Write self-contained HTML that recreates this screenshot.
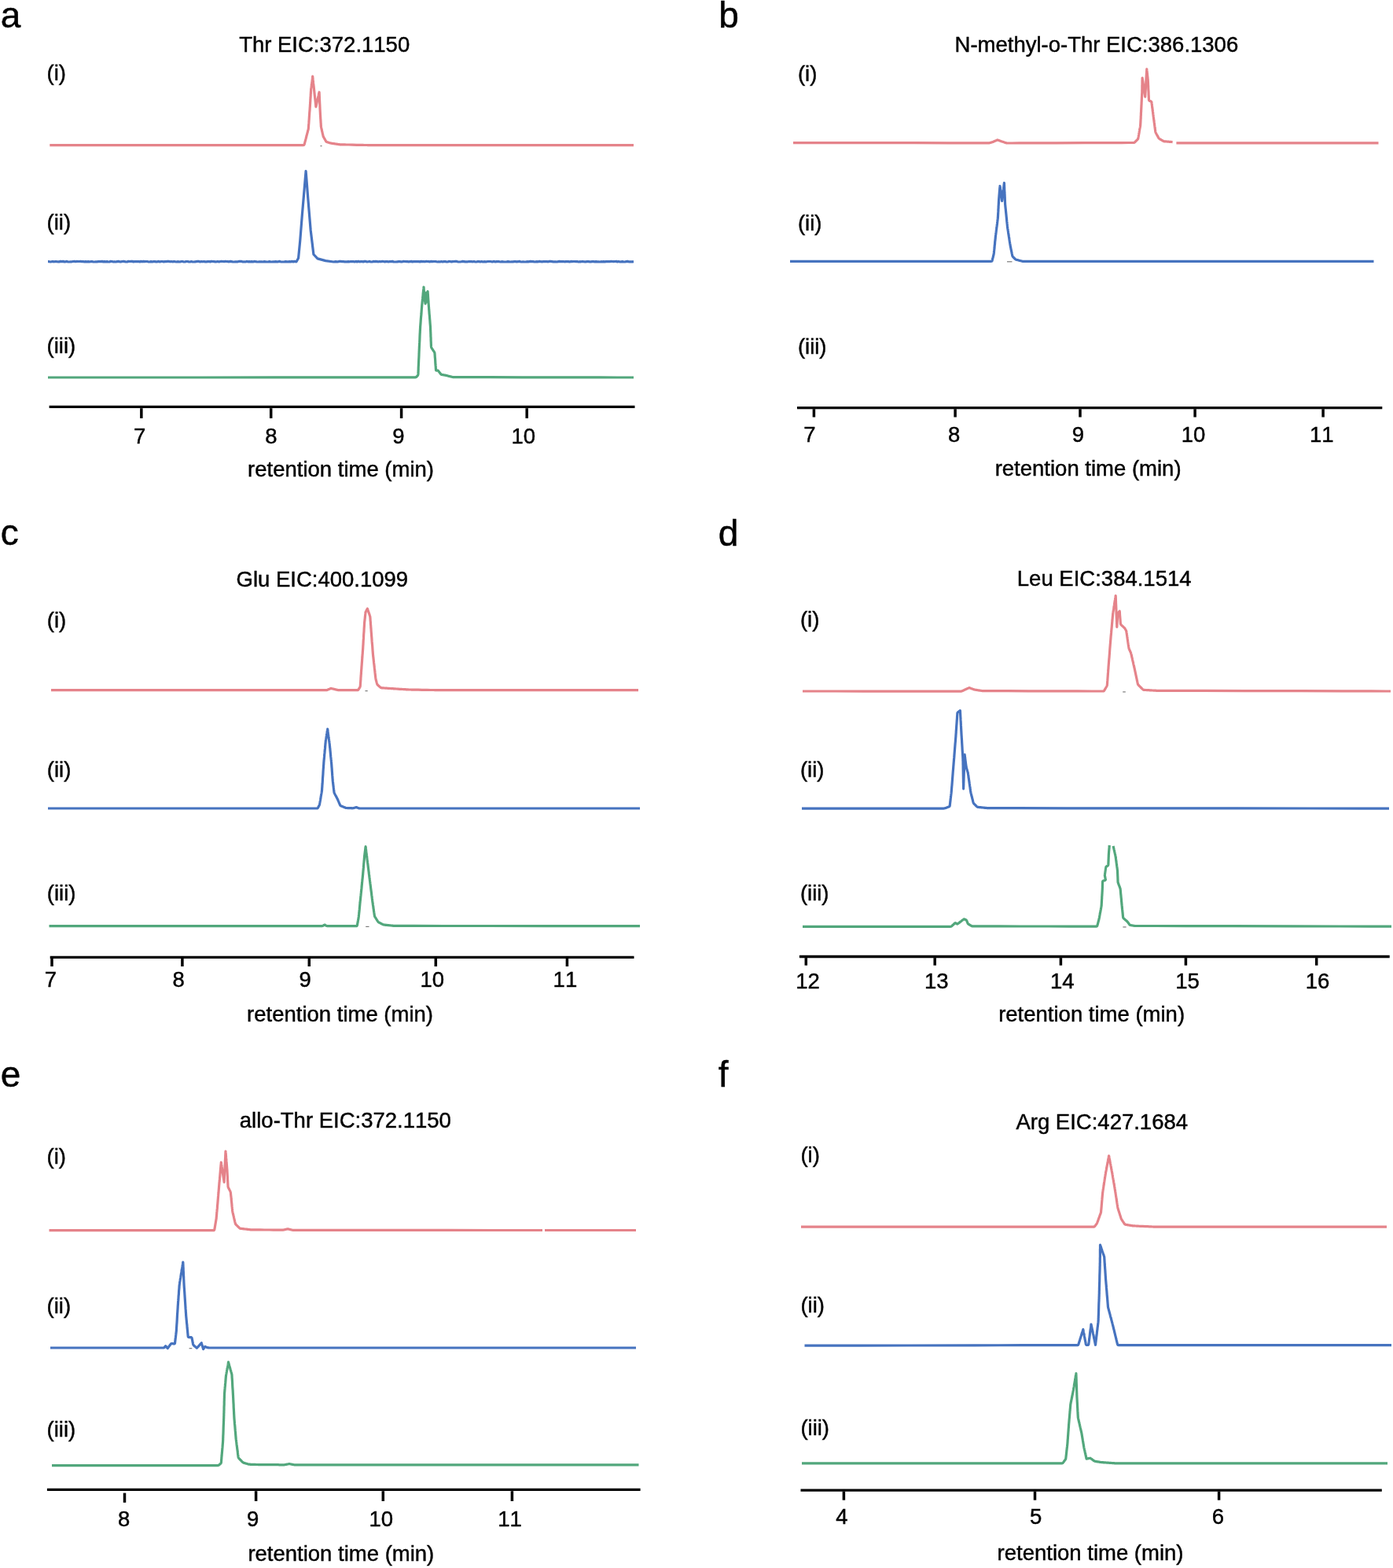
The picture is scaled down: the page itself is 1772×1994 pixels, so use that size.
<!DOCTYPE html>
<html><head><meta charset="utf-8"><title>EIC chromatograms</title>
<style>
html,body{margin:0;padding:0;background:#fff;}
body{width:1772px;height:1994px;overflow:hidden;}
svg{display:block;}
text{font-family:"Liberation Sans",Arial,Helvetica,sans-serif;fill:#000;stroke:#000;stroke-width:0.45px;font-kerning:none;font-feature-settings:"kern" 0;}
</style></head>
<body>
<svg width="1772" height="1994" viewBox="0 0 1772 1994">
<rect width="1772" height="1994" fill="#fff"/>
<text x="0.75" y="35.30" font-size="46">a</text>
<text x="304.13" y="65.90" font-size="27.5">Thr EIC:372.1150</text>
<text x="59.58" y="101.60" font-size="27.5">(i)</text>
<text x="59.58" y="292.20" font-size="27.5">(ii)</text>
<text x="59.58" y="448.80" font-size="27.5">(iii)</text>
<path d="M63.3,184.6 L64.7,184.6 L65.5,184.6 L66.1,184.6 L66.7,184.6 L67.4,184.6 L68.0,184.6 L68.6,184.6 L69.2,184.6 L69.9,184.6 L89.6,184.6 L128.5,184.6 L186.5,184.6 L263.7,184.6 L321.7,184.6 L360.6,184.6 L380.3,184.6 L381.0,184.6 L381.6,184.6 L382.2,184.6 L382.8,184.6 L383.5,184.6 L384.1,184.6 L384.7,184.6 L385.3,184.6 L386.0,184.6 L386.5,184.4 L386.9,184.1 L387.1,183.7 L387.3,183.1 L387.5,182.5 L387.6,181.9 L387.8,181.3 L387.9,180.7 L388.1,180.1 L388.2,179.5 L388.4,178.9 L388.6,178.3 L388.8,177.4 L389.1,176.4 L389.4,175.1 L389.8,173.5 L390.1,172.2 L390.4,171.2 L390.6,170.3 L390.8,169.7 L391.0,169.1 L391.1,168.5 L391.3,167.9 L391.4,167.3 L391.6,166.7 L391.7,166.1 L391.9,165.5 L392.1,164.9 L392.2,164.3 L392.3,163.7 L392.4,163.1 L392.4,162.4 L392.5,161.8 L392.5,161.2 L392.5,160.6 L392.6,159.9 L392.6,159.3 L392.7,158.7 L392.7,158.1 L392.8,157.5 L392.9,156.2 L393.0,154.2 L393.2,151.6 L393.4,148.2 L393.6,145.6 L393.7,143.6 L393.8,142.3 L393.9,141.7 L393.9,141.1 L394.0,140.5 L394.0,139.9 L394.1,139.2 L394.1,138.6 L394.1,138.0 L394.2,137.4 L394.2,136.7 L394.3,136.1 L394.3,135.5 L394.4,134.9 L394.4,134.2 L394.4,133.6 L394.5,133.0 L394.5,132.4 L394.6,131.7 L394.6,131.1 L394.6,130.5 L394.7,129.9 L394.7,129.3 L394.8,128.3 L394.8,127.0 L394.9,125.5 L395.1,123.5 L395.2,122.0 L395.2,120.7 L395.3,119.7 L395.3,119.1 L395.4,118.5 L395.4,117.9 L395.4,117.3 L395.5,116.6 L395.5,116.0 L395.6,115.4 L395.6,114.8 L395.6,114.1 L395.7,113.5 L395.7,112.9 L395.8,112.3 L395.9,111.8 L396.0,111.2 L396.0,110.6 L396.1,110.1 L396.2,109.5 L396.2,108.9 L396.3,108.3 L396.4,107.8 L396.4,107.2 L396.5,106.6 L396.6,106.1 L396.7,105.5 L396.7,104.9 L396.8,104.3 L396.9,103.8 L397.0,103.2 L397.0,102.6 L397.1,102.1 L397.2,101.5 L397.2,100.9 L397.3,100.3 L397.4,99.8 L397.5,99.2 L397.5,98.5 L397.7,97.2 L397.9,98.6 L397.9,99.4 L398.0,100.0 L398.1,100.6 L398.1,101.2 L398.2,101.9 L398.3,102.5 L398.3,103.1 L398.4,103.7 L398.6,105.7 L399.0,108.9 L399.5,113.5 L400.1,119.5 L400.6,124.1 L401.0,127.3 L401.2,129.3 L401.3,129.9 L401.3,130.5 L401.4,131.1 L401.5,131.8 L401.5,132.4 L401.6,133.0 L401.7,133.6 L401.7,134.4 L401.9,135.8 L402.2,134.5 L402.4,133.8 L402.5,133.2 L402.6,132.6 L402.8,132.0 L402.9,131.4 L403.0,130.9 L403.1,130.3 L403.3,129.7 L403.4,129.1 L403.5,128.5 L403.7,128.0 L403.8,127.4 L403.9,126.8 L404.1,126.2 L404.2,125.6 L404.3,125.0 L404.5,124.5 L404.6,123.9 L404.7,123.3 L404.9,122.7 L405.0,122.1 L405.1,121.6 L405.2,121.0 L405.4,120.4 L405.5,119.8 L405.6,119.2 L405.8,118.5 L406.1,117.2 L406.2,118.6 L406.2,119.4 L406.2,120.0 L406.3,120.6 L406.3,121.3 L406.3,121.9 L406.3,122.5 L406.4,123.1 L406.4,123.8 L406.4,124.8 L406.5,126.3 L406.6,128.1 L406.7,130.5 L406.8,132.3 L406.9,133.8 L406.9,134.8 L406.9,135.5 L407.0,136.1 L407.0,136.7 L407.0,137.3 L407.0,138.0 L407.1,138.6 L407.1,139.2 L407.1,139.8 L407.2,140.5 L407.2,141.1 L407.2,141.7 L407.3,142.3 L407.3,142.9 L407.3,143.6 L407.4,144.2 L407.4,144.8 L407.4,145.4 L407.5,146.0 L407.5,146.7 L407.6,147.3 L407.6,147.9 L407.6,148.5 L407.7,149.1 L407.7,149.8 L407.7,150.4 L407.8,151.0 L407.8,151.6 L407.9,152.2 L407.9,152.8 L407.9,153.5 L408.0,154.1 L408.0,154.7 L408.0,155.3 L408.1,155.9 L408.1,156.6 L408.2,157.2 L408.2,157.8 L408.2,158.4 L408.3,159.0 L408.3,159.7 L408.3,160.3 L408.4,160.9 L408.5,161.4 L408.6,162.0 L408.7,162.5 L408.8,163.0 L408.9,163.5 L409.0,164.0 L409.2,164.6 L409.3,165.1 L409.4,165.6 L409.5,166.1 L409.6,166.6 L409.7,167.1 L409.9,167.7 L410.0,168.2 L410.1,168.7 L410.2,169.2 L410.3,169.7 L410.4,170.2 L410.6,170.8 L410.7,171.3 L410.8,171.8 L410.9,172.3 L411.0,172.8 L411.2,173.3 L411.4,173.8 L411.6,174.2 L411.8,174.7 L412.1,175.1 L412.3,175.5 L412.5,175.9 L412.8,176.4 L413.0,176.8 L413.3,177.2 L413.5,177.6 L413.8,178.1 L414.0,178.5 L414.2,178.9 L414.5,179.3 L414.7,179.8 L415.0,180.1 L415.4,180.4 L415.8,180.6 L416.3,180.8 L416.8,180.9 L417.2,181.0 L417.7,181.2 L418.2,181.3 L418.7,181.5 L419.1,181.6 L419.6,181.7 L420.1,181.9 L420.6,182.0 L421.1,182.1 L421.6,182.2 L422.2,182.3 L422.8,182.4 L423.3,182.5 L423.9,182.6 L424.5,182.7 L425.0,182.7 L425.6,182.8 L426.2,182.9 L426.7,183.0 L427.3,183.1 L427.9,183.2 L428.4,183.2 L429.0,183.3 L429.6,183.4 L430.1,183.5 L430.7,183.6 L431.3,183.7 L431.8,183.7 L432.4,183.8 L433.0,183.8 L433.7,183.8 L434.3,183.8 L434.9,183.9 L435.5,183.9 L436.2,183.9 L436.8,183.9 L437.4,183.9 L438.0,183.9 L438.7,183.9 L440.6,184.0 L443.7,184.0 L448.2,184.1 L453.9,184.3 L458.4,184.4 L461.5,184.4 L463.4,184.5 L464.1,184.5 L464.7,184.5 L465.3,184.5 L465.9,184.5 L466.6,184.5 L467.2,184.5 L467.8,184.6 L468.4,184.6 L469.1,184.6 L469.7,184.6 L470.3,184.6 L470.9,184.6 L471.6,184.6 L472.2,184.6 L472.8,184.6 L473.4,184.6 L474.1,184.6 L474.7,184.6 L475.3,184.6 L475.9,184.6 L476.6,184.6 L497.1,184.6 L537.5,184.6 L597.9,184.6 L678.1,184.6 L738.5,184.6 L778.9,184.6 L799.4,184.6 L800.1,184.6 L800.7,184.6 L801.3,184.6 L801.9,184.6 L802.6,184.6 L803.2,184.6 L803.8,184.6 L804.6,184.6 L806.0,184.6" stroke="#E5838A" stroke-width="3.2" fill="none" stroke-linejoin="round" stroke-linecap="butt"/>
<path d="M61.0,332.7 L62.6,332.7 L64.2,333.0 L65.8,332.7 L67.4,332.7 L69.0,332.8 L70.6,332.5 L72.2,332.7 L73.8,332.8 L75.4,332.9 L77.0,332.4 L78.6,332.6 L80.2,332.4 L81.8,332.9 L83.4,332.8 L85.0,332.4 L86.6,333.0 L88.2,333.0 L89.8,332.8 L91.4,332.8 L93.0,332.5 L94.6,332.4 L96.2,332.7 L97.8,332.4 L99.4,332.5 L101.0,332.5 L102.6,332.4 L104.2,332.7 L105.8,332.7 L107.4,332.9 L109.0,332.7 L110.6,332.8 L112.2,332.7 L113.8,332.8 L115.4,332.7 L117.0,332.5 L118.6,333.0 L120.2,333.0 L121.8,332.9 L123.4,332.8 L125.0,332.6 L126.6,332.5 L128.2,332.6 L129.8,332.4 L131.4,332.9 L133.0,332.6 L134.6,332.9 L136.2,332.6 L137.8,333.0 L139.4,332.9 L141.0,332.4 L142.6,332.5 L144.2,333.0 L145.8,332.7 L147.4,333.0 L149.0,332.6 L150.6,332.4 L152.2,332.8 L153.8,332.9 L155.4,332.5 L157.0,332.4 L158.6,332.6 L160.2,333.0 L161.8,332.9 L163.4,332.4 L165.0,332.5 L166.6,332.4 L168.2,332.4 L169.8,332.9 L171.4,332.5 L173.0,332.7 L174.6,332.7 L176.2,332.5 L177.8,332.9 L179.4,332.4 L181.0,332.8 L182.6,332.4 L184.2,332.6 L185.8,332.5 L187.4,332.5 L189.0,333.0 L190.6,332.9 L192.2,332.6 L193.8,333.0 L195.4,332.5 L197.0,332.6 L198.6,332.9 L200.2,332.8 L201.8,332.4 L203.4,333.0 L205.0,332.5 L206.6,332.5 L208.2,332.9 L209.8,332.6 L211.4,332.6 L213.0,332.4 L214.6,332.4 L216.2,332.8 L217.8,332.5 L219.4,332.8 L221.0,332.6 L222.6,332.7 L224.2,333.0 L225.8,332.7 L227.4,332.8 L229.0,333.0 L230.6,332.5 L232.2,332.5 L233.8,333.0 L235.4,332.9 L237.0,332.5 L238.6,332.5 L240.2,332.9 L241.8,333.0 L243.4,332.5 L245.0,333.0 L246.6,333.0 L248.2,332.8 L249.8,332.6 L251.4,332.4 L253.0,332.4 L254.6,333.0 L256.2,332.5 L257.8,332.8 L259.4,332.5 L261.0,332.9 L262.6,332.8 L264.2,332.6 L265.8,332.5 L267.4,332.9 L269.0,332.4 L270.6,332.5 L272.2,332.7 L273.8,332.9 L275.4,332.8 L277.0,332.5 L278.6,333.0 L280.2,332.5 L281.8,332.4 L283.4,332.5 L285.0,332.7 L286.6,332.4 L288.2,332.5 L289.8,332.6 L291.4,332.8 L293.0,332.4 L294.6,332.6 L296.2,333.0 L297.8,333.0 L299.4,332.8 L301.0,332.8 L302.6,332.8 L304.2,332.4 L305.8,332.4 L307.4,332.4 L309.0,333.0 L310.6,332.8 L312.2,333.0 L313.8,332.4 L315.4,332.8 L317.0,332.7 L318.6,332.9 L320.2,332.6 L321.8,333.0 L323.4,332.4 L325.0,332.7 L326.6,332.9 L328.2,333.0 L329.8,332.9 L331.4,332.8 L333.0,332.9 L334.6,333.0 L336.2,332.6 L337.8,332.8 L339.4,333.0 L341.0,333.0 L342.6,332.6 L344.2,332.9 L345.8,333.0 L347.4,332.8 L349.0,332.8 L350.6,332.6 L352.2,332.8 L353.8,332.8 L355.4,332.4 L357.0,332.8 L358.6,333.0 L360.2,333.0 L361.8,332.9 L363.4,332.6 L365.0,332.9 L366.6,332.8 L368.2,332.7 L369.8,332.9 L371.4,332.4 L373.0,332.9 L374.6,332.4 L376.2,332.8 L376.9,332.7 L376.9,333.0 L379.6,328.2 L381.7,306.6 L384.4,272.7 L389.1,217.5 L391.8,252.4 L395.2,293.0 L398.9,323.5 L404.0,328.9 L414.2,331.6 L424.3,333.0 L427.0,332.7 L428.6,332.8 L430.2,332.8 L431.8,332.4 L433.4,332.4 L435.0,332.6 L436.6,332.5 L438.2,332.9 L439.8,332.8 L441.4,332.8 L443.0,332.7 L444.6,332.8 L446.2,332.5 L447.8,332.7 L449.4,332.5 L451.0,333.0 L452.6,332.4 L454.2,332.9 L455.8,332.4 L457.4,332.8 L459.0,332.6 L460.6,332.6 L462.2,332.9 L463.8,332.4 L465.4,332.4 L467.0,333.0 L468.6,332.7 L470.2,332.4 L471.8,333.0 L473.4,333.0 L475.0,332.4 L476.6,332.6 L478.2,332.4 L479.8,332.6 L481.4,332.8 L483.0,332.5 L484.6,332.8 L486.2,332.4 L487.8,332.5 L489.4,332.9 L491.0,332.6 L492.6,332.6 L494.2,332.8 L495.8,332.7 L497.4,332.6 L499.0,332.4 L500.6,332.9 L502.2,333.0 L503.8,333.0 L505.4,332.8 L507.0,332.6 L508.6,332.6 L510.2,332.8 L511.8,332.8 L513.4,332.4 L515.0,332.5 L516.6,332.6 L518.2,332.7 L519.8,332.9 L521.4,332.7 L523.0,332.4 L524.6,332.9 L526.2,332.7 L527.8,332.7 L529.4,332.5 L531.0,332.6 L532.6,332.6 L534.2,332.9 L535.8,332.4 L537.4,332.7 L539.0,332.5 L540.6,332.8 L542.2,332.4 L543.8,332.5 L545.4,332.6 L547.0,332.8 L548.6,332.4 L550.2,332.7 L551.8,332.5 L553.4,332.5 L555.0,332.7 L556.6,333.0 L558.2,332.7 L559.8,333.0 L561.4,332.5 L563.0,333.0 L564.6,332.6 L566.2,332.5 L567.8,332.9 L569.4,333.0 L571.0,332.4 L572.6,332.5 L574.2,332.9 L575.8,332.6 L577.4,332.5 L579.0,332.4 L580.6,332.4 L582.2,332.8 L583.8,333.0 L585.4,333.0 L587.0,332.7 L588.6,332.4 L590.2,332.6 L591.8,332.9 L593.4,332.9 L595.0,332.8 L596.6,332.5 L598.2,332.7 L599.8,332.7 L601.4,332.8 L603.0,332.5 L604.6,333.0 L606.2,333.0 L607.8,332.5 L609.4,332.6 L611.0,333.0 L612.6,332.5 L614.2,333.0 L615.8,332.7 L617.4,332.8 L619.0,332.8 L620.6,332.5 L622.2,332.5 L623.8,332.5 L625.4,332.8 L627.0,332.8 L628.6,332.4 L630.2,333.0 L631.8,332.6 L633.4,332.5 L635.0,332.7 L636.6,333.0 L638.2,332.7 L639.8,332.8 L641.4,333.0 L643.0,333.0 L644.6,332.9 L646.2,332.6 L647.8,332.8 L649.4,333.0 L651.0,332.9 L652.6,332.8 L654.2,332.6 L655.8,332.6 L657.4,332.9 L659.0,332.7 L660.6,332.4 L662.2,332.8 L663.8,333.0 L665.4,332.9 L667.0,333.0 L668.6,333.0 L670.2,332.7 L671.8,332.9 L673.4,332.6 L675.0,332.4 L676.6,332.6 L678.2,332.6 L679.8,333.0 L681.4,332.8 L683.0,332.7 L684.6,332.8 L686.2,332.4 L687.8,332.7 L689.4,332.8 L691.0,332.6 L692.6,332.5 L694.2,332.6 L695.8,332.6 L697.4,332.8 L699.0,332.4 L700.6,332.4 L702.2,332.6 L703.8,332.8 L705.4,332.9 L707.0,332.8 L708.6,333.0 L710.2,332.6 L711.8,332.4 L713.4,332.7 L715.0,332.7 L716.6,332.5 L718.2,332.8 L719.8,332.6 L721.4,332.5 L723.0,332.6 L724.6,333.0 L726.2,332.4 L727.8,332.6 L729.4,332.5 L731.0,332.5 L732.6,332.7 L734.2,332.5 L735.8,333.0 L737.4,332.7 L739.0,332.8 L740.6,332.5 L742.2,332.7 L743.8,332.8 L745.4,332.9 L747.0,332.5 L748.6,332.7 L750.2,332.9 L751.8,332.9 L753.4,332.5 L755.0,332.7 L756.6,332.9 L758.2,332.6 L759.8,332.8 L761.4,332.8 L763.0,333.0 L764.6,332.7 L766.2,332.8 L767.8,332.6 L769.4,332.9 L771.0,332.6 L772.6,332.7 L774.2,332.6 L775.8,332.6 L777.4,332.4 L779.0,332.5 L780.6,332.7 L782.2,332.5 L783.8,332.4 L785.4,332.9 L787.0,332.5 L788.6,333.0 L790.2,332.8 L791.8,332.6 L793.4,333.0 L795.0,333.0 L796.6,332.6 L798.2,332.4 L799.8,332.8 L801.4,332.9 L803.0,332.8 L804.6,332.9 L806.0,332.7" stroke="#4673BF" stroke-width="3.2" fill="none" stroke-linejoin="round" stroke-linecap="butt"/>
<path d="M61.0,480.0 L62.4,480.0 L63.2,480.0 L63.8,480.0 L64.4,480.0 L65.1,480.0 L65.7,480.0 L66.3,480.0 L66.9,480.0 L67.6,480.0 L96.4,480.0 L153.3,480.0 L238.4,480.0 L351.8,479.9 L436.9,479.9 L493.8,479.9 L522.6,479.9 L523.3,479.9 L523.9,479.9 L524.5,479.9 L525.1,479.9 L525.8,479.9 L526.4,479.9 L527.0,479.9 L527.6,479.9 L528.3,479.9 L528.8,479.8 L529.3,479.6 L529.7,479.3 L530.0,479.0 L530.4,478.6 L530.7,478.2 L531.1,477.8 L531.4,477.5 L531.7,477.0 L531.8,476.5 L531.9,476.0 L532.0,475.3 L532.0,474.7 L532.0,474.1 L532.0,473.5 L532.1,472.8 L532.1,472.2 L532.1,471.6 L532.1,471.0 L532.2,470.3 L532.2,468.7 L532.3,466.0 L532.5,462.3 L532.7,457.6 L532.9,453.9 L533.0,451.2 L533.0,449.6 L533.1,448.9 L533.1,448.3 L533.1,447.7 L533.1,447.1 L533.2,446.4 L533.2,445.8 L533.2,445.2 L533.2,444.6 L533.3,443.9 L533.3,443.3 L533.3,442.7 L533.3,442.1 L533.4,441.4 L533.4,440.8 L533.4,440.2 L533.5,439.6 L533.5,438.9 L533.5,438.3 L533.6,437.7 L533.6,437.1 L533.6,436.4 L533.7,435.2 L533.8,433.4 L533.9,431.0 L534.0,427.9 L534.1,425.5 L534.2,423.7 L534.3,422.5 L534.3,421.8 L534.3,421.2 L534.4,420.6 L534.4,420.0 L534.4,419.3 L534.5,418.7 L534.5,418.1 L534.5,417.5 L534.6,416.8 L534.6,416.2 L534.6,415.6 L534.7,415.0 L534.7,414.3 L534.8,413.7 L534.8,413.1 L534.9,412.5 L534.9,411.8 L535.0,411.2 L535.0,410.6 L535.1,410.0 L535.1,409.4 L535.2,408.1 L535.3,406.3 L535.5,403.9 L535.8,400.9 L536.0,398.5 L536.1,396.7 L536.2,395.4 L536.2,394.8 L536.3,394.2 L536.3,393.6 L536.4,393.0 L536.4,392.3 L536.5,391.7 L536.5,391.1 L536.6,390.5 L536.6,389.8 L536.7,389.2 L536.7,388.6 L536.8,388.0 L536.8,387.3 L536.9,386.7 L537.0,386.1 L537.0,385.5 L537.1,384.9 L537.1,384.2 L537.2,383.6 L537.3,383.0 L537.3,382.4 L537.4,381.3 L537.6,379.9 L537.7,378.1 L538.0,375.8 L538.1,374.0 L538.3,372.6 L538.4,371.5 L538.4,370.9 L538.5,370.3 L538.6,369.7 L538.6,369.0 L538.7,368.4 L538.7,367.8 L538.8,367.2 L538.9,366.4 L539.0,365.0 L539.1,366.2 L539.1,366.9 L539.2,367.4 L539.2,367.9 L539.2,368.5 L539.3,369.0 L539.3,369.6 L539.3,370.1 L539.4,370.6 L539.4,371.2 L539.4,371.7 L539.5,372.2 L539.5,372.8 L539.6,373.3 L539.6,373.8 L539.6,374.4 L539.7,374.9 L539.7,375.4 L539.7,376.0 L539.8,376.5 L539.8,377.1 L539.8,377.6 L539.9,378.1 L539.9,378.7 L539.9,379.2 L540.0,379.7 L540.1,380.2 L540.1,380.8 L540.2,381.3 L540.3,381.8 L540.4,382.3 L540.5,382.8 L540.6,383.3 L540.7,383.8 L540.8,384.3 L540.9,385.0 L541.1,386.1 L541.2,384.8 L541.3,384.0 L541.4,383.5 L541.4,382.9 L541.5,382.3 L541.5,381.7 L541.6,381.1 L541.7,380.5 L541.7,379.9 L541.8,379.3 L541.8,378.8 L541.9,378.2 L541.9,377.6 L542.0,377.0 L542.1,376.4 L542.1,375.8 L542.2,375.2 L542.2,374.6 L542.3,374.1 L542.4,373.3 L542.5,372.0 L542.6,373.3 L542.6,374.1 L542.7,374.7 L542.7,375.3 L542.8,375.9 L542.8,376.5 L542.8,377.1 L542.9,377.7 L542.9,378.3 L543.0,378.9 L543.0,379.5 L543.0,380.1 L543.1,380.7 L543.1,381.3 L543.2,381.9 L543.2,382.7 L543.3,384.0 L543.4,382.7 L543.4,382.0 L543.4,381.5 L543.5,380.9 L543.5,380.4 L543.5,379.8 L543.6,379.3 L543.6,378.7 L543.7,378.1 L543.7,377.6 L543.7,377.0 L543.8,376.5 L543.8,375.9 L543.8,375.3 L543.8,374.8 L543.9,374.2 L543.9,373.7 L544.0,373.1 L544.0,372.6 L544.0,371.9 L544.1,370.6 L544.2,372.0 L544.2,372.8 L544.3,373.4 L544.3,374.0 L544.4,374.6 L544.4,375.3 L544.5,375.9 L544.5,376.5 L544.5,377.1 L544.6,377.7 L544.6,378.4 L544.7,379.0 L544.7,379.6 L544.7,380.2 L544.8,380.8 L544.8,381.5 L544.9,382.1 L544.9,382.7 L545.0,383.3 L545.0,383.9 L545.0,384.6 L545.1,385.2 L545.1,385.8 L545.2,386.4 L545.2,387.1 L545.3,387.7 L545.3,388.3 L545.4,388.9 L545.4,389.5 L545.5,390.2 L545.5,390.8 L545.6,391.4 L545.6,392.0 L545.7,393.5 L545.9,395.7 L546.1,398.8 L546.5,402.6 L546.7,405.7 L546.9,407.9 L547.0,409.4 L547.0,410.0 L547.1,410.6 L547.1,411.2 L547.2,411.9 L547.2,412.5 L547.3,413.1 L547.3,413.7 L547.4,414.3 L547.4,415.0 L547.5,415.6 L547.5,416.2 L547.5,416.8 L547.6,417.5 L547.6,418.1 L547.6,418.7 L547.6,419.3 L547.7,420.0 L547.7,420.6 L547.7,421.2 L547.7,421.8 L547.8,422.5 L547.8,423.6 L547.9,425.3 L547.9,427.4 L548.1,430.2 L548.1,432.3 L548.2,434.0 L548.2,435.1 L548.3,435.8 L548.3,436.4 L548.3,437.0 L548.3,437.6 L548.4,438.3 L548.4,438.9 L548.4,439.5 L548.4,440.1 L548.5,440.8 L548.6,441.3 L548.7,441.9 L548.9,442.3 L549.2,442.7 L549.5,443.2 L549.7,443.6 L550.0,444.0 L550.3,444.4 L550.6,444.8 L550.8,445.3 L551.1,445.7 L551.4,446.1 L551.7,446.5 L551.9,446.9 L552.2,447.4 L552.5,447.8 L552.7,448.2 L552.9,448.8 L553.0,449.3 L553.0,450.0 L553.1,450.6 L553.1,451.2 L553.2,451.8 L553.2,452.5 L553.2,453.1 L553.3,453.7 L553.3,454.3 L553.4,454.9 L553.5,455.9 L553.6,457.3 L553.7,458.9 L553.8,461.0 L553.9,462.6 L554.0,464.0 L554.1,465.0 L554.2,465.6 L554.2,466.2 L554.3,466.8 L554.3,467.4 L554.3,468.1 L554.4,468.7 L554.4,469.3 L554.5,469.9 L554.5,470.6 L554.7,471.0 L555.0,471.2 L555.5,471.2 L556.1,471.1 L556.6,471.0 L557.1,471.2 L557.5,471.5 L557.8,471.9 L558.2,472.4 L558.5,472.8 L558.8,473.3 L559.2,473.7 L559.5,474.2 L559.8,474.6 L560.2,475.1 L560.5,475.5 L560.9,475.9 L561.3,476.2 L561.8,476.4 L562.4,476.5 L563.0,476.6 L563.5,476.7 L564.1,476.8 L564.7,476.9 L565.2,477.0 L565.8,477.1 L566.4,477.2 L567.0,477.3 L567.5,477.5 L568.0,477.6 L568.6,477.7 L569.1,477.8 L569.6,478.0 L570.1,478.1 L570.6,478.2 L571.1,478.4 L571.6,478.5 L572.2,478.6 L572.7,478.7 L573.2,478.9 L573.7,479.0 L574.2,479.1 L574.7,479.3 L575.2,479.4 L575.8,479.5 L576.3,479.6 L576.9,479.6 L577.6,479.6 L578.2,479.6 L578.8,479.6 L579.4,479.6 L580.1,479.6 L580.7,479.6 L581.3,479.6 L581.9,479.6 L582.6,479.6 L596.5,479.6 L623.7,479.7 L664.1,479.8 L717.9,479.8 L758.3,479.9 L785.5,480.0 L799.4,480.0 L800.1,480.0 L800.7,480.0 L801.3,480.0 L801.9,480.0 L802.6,480.0 L803.2,480.0 L803.8,480.0 L804.6,480.0 L806.0,480.0" stroke="#52A77C" stroke-width="3.2" fill="none" stroke-linejoin="round" stroke-linecap="butt"/>
<line x1="62.6" y1="517.4" x2="807.5" y2="517.4" stroke="#000" stroke-width="3.3"/>
<line x1="179.85" y1="519.2" x2="179.85" y2="531.9" stroke="#000" stroke-width="3.5"/>
<line x1="344.7" y1="519.2" x2="344.7" y2="531.9" stroke="#000" stroke-width="3.5"/>
<line x1="510.6" y1="519.2" x2="510.6" y2="531.9" stroke="#000" stroke-width="3.5"/>
<line x1="670.2" y1="519.2" x2="670.2" y2="531.9" stroke="#000" stroke-width="3.5"/>
<text x="170.03" y="564.30" font-size="27.5">7</text>
<text x="337.25" y="564.30" font-size="27.5">8</text>
<text x="499.25" y="564.30" font-size="27.5">9</text>
<text x="650.49" y="564.30" font-size="27.5">10</text>
<text x="315.08" y="605.80" font-size="27.5">retention time (min)</text>
<text x="914.31" y="35.10" font-size="46">b</text>
<text x="1214.53" y="66.00" font-size="27.5">N-methyl-o-Thr EIC:386.1306</text>
<text x="1014.88" y="103.10" font-size="27.5">(i)</text>
<text x="1014.88" y="293.00" font-size="27.5">(ii)</text>
<text x="1014.88" y="449.80" font-size="27.5">(iii)</text>
<path d="M1009.0,181.6 L1010.4,181.6 L1011.2,181.6 L1011.8,181.6 L1012.4,181.6 L1013.1,181.6 L1013.7,181.6 L1014.3,181.6 L1014.9,181.6 L1015.6,181.6 L1030.7,181.6 L1060.3,181.6 L1104.5,181.7 L1163.1,181.7 L1207.3,181.8 L1236.9,181.8 L1252.0,181.8 L1252.7,181.8 L1253.3,181.8 L1253.9,181.8 L1254.5,181.8 L1255.2,181.8 L1255.8,181.8 L1256.4,181.8 L1257.0,181.8 L1257.7,181.8 L1258.3,181.8 L1258.9,181.7 L1259.4,181.6 L1260.0,181.4 L1260.5,181.2 L1261.1,181.1 L1261.6,180.9 L1262.2,180.7 L1262.7,180.6 L1263.2,180.4 L1263.7,180.2 L1264.2,180.0 L1264.7,179.7 L1265.2,179.5 L1265.7,179.3 L1266.1,179.1 L1266.6,178.9 L1267.1,178.7 L1267.7,178.4 L1268.8,177.9 L1269.8,178.3 L1270.3,178.5 L1270.8,178.6 L1271.2,178.8 L1271.6,178.9 L1272.1,179.1 L1272.5,179.2 L1272.9,179.4 L1273.3,179.6 L1273.8,179.7 L1274.3,179.9 L1274.8,180.1 L1275.4,180.3 L1275.9,180.4 L1276.5,180.6 L1277.0,180.8 L1277.6,181.0 L1278.1,181.2 L1278.7,181.4 L1279.2,181.5 L1279.8,181.7 L1280.3,181.9 L1280.9,182.0 L1281.5,182.0 L1282.2,182.0 L1282.8,182.0 L1283.4,182.0 L1284.0,182.0 L1284.7,182.0 L1285.3,182.0 L1285.9,182.0 L1286.5,182.0 L1287.2,182.0 L1296.8,181.9 L1315.6,181.9 L1343.3,181.8 L1380.2,181.7 L1407.9,181.6 L1426.7,181.6 L1436.3,181.5 L1437.0,181.5 L1437.6,181.5 L1438.2,181.5 L1438.8,181.5 L1439.5,181.5 L1440.1,181.5 L1440.7,181.5 L1441.3,181.5 L1442.0,181.5 L1442.5,181.4 L1443.0,181.2 L1443.5,180.9 L1443.9,180.5 L1444.3,180.1 L1444.7,179.7 L1445.1,179.3 L1445.5,178.9 L1445.9,178.5 L1446.3,178.1 L1446.7,177.7 L1447.1,177.3 L1447.4,176.9 L1447.7,176.4 L1447.8,175.9 L1447.9,175.3 L1448.0,174.8 L1448.1,174.2 L1448.2,173.7 L1448.3,173.1 L1448.4,172.6 L1448.5,172.1 L1448.6,171.5 L1448.7,171.0 L1448.8,170.4 L1448.9,169.9 L1449.0,169.3 L1449.1,168.8 L1449.2,168.2 L1449.2,167.7 L1449.3,167.1 L1449.4,166.6 L1449.5,166.0 L1449.6,165.5 L1449.7,164.9 L1449.8,164.4 L1449.9,163.8 L1450.0,163.3 L1450.1,162.8 L1450.2,162.2 L1450.3,161.7 L1450.4,161.1 L1450.5,160.6 L1450.6,160.0 L1450.6,159.5 L1450.7,158.9 L1450.7,158.3 L1450.8,157.6 L1450.8,157.0 L1450.8,156.4 L1450.9,155.8 L1450.9,155.1 L1450.9,154.5 L1451.0,153.9 L1451.0,153.3 L1451.0,152.6 L1451.1,151.6 L1451.2,150.2 L1451.2,148.3 L1451.4,146.1 L1451.4,144.2 L1451.5,142.8 L1451.6,141.8 L1451.6,141.1 L1451.6,140.5 L1451.7,139.9 L1451.7,139.3 L1451.7,138.6 L1451.8,138.0 L1451.8,137.4 L1451.8,136.8 L1451.9,136.1 L1451.9,135.5 L1451.9,134.9 L1451.9,134.4 L1452.0,133.8 L1452.0,133.2 L1452.0,132.7 L1452.1,132.1 L1452.1,131.5 L1452.1,131.0 L1452.1,130.4 L1452.2,129.8 L1452.2,129.3 L1452.2,128.7 L1452.3,128.1 L1452.3,127.6 L1452.3,127.0 L1452.3,126.4 L1452.4,125.9 L1452.4,125.3 L1452.4,124.7 L1452.4,124.2 L1452.5,123.6 L1452.5,123.0 L1452.5,122.5 L1452.6,121.9 L1452.6,121.3 L1452.6,120.8 L1452.6,120.2 L1452.7,119.6 L1452.7,119.1 L1452.7,118.5 L1452.8,117.9 L1452.8,117.4 L1452.8,116.8 L1452.8,116.3 L1452.8,115.7 L1452.8,115.1 L1452.8,114.6 L1452.9,114.0 L1452.9,113.4 L1452.9,112.9 L1452.9,112.3 L1452.9,111.8 L1452.9,111.2 L1452.9,110.6 L1452.9,110.1 L1452.9,109.5 L1452.9,108.9 L1452.9,108.4 L1453.0,107.8 L1453.0,107.3 L1453.0,106.7 L1453.0,106.1 L1453.0,105.6 L1453.0,105.0 L1453.0,104.4 L1453.0,103.9 L1453.0,103.3 L1453.0,102.8 L1453.0,102.2 L1453.1,101.6 L1453.1,101.1 L1453.1,100.4 L1453.1,99.1 L1453.3,100.5 L1453.5,101.2 L1453.5,101.8 L1453.6,102.4 L1453.8,103.0 L1453.8,103.6 L1454.0,104.2 L1454.0,104.8 L1454.1,105.4 L1454.2,106.0 L1454.3,106.6 L1454.4,107.2 L1454.5,107.8 L1454.6,108.4 L1454.7,109.0 L1454.8,109.6 L1454.9,110.2 L1454.9,110.8 L1455.0,111.4 L1455.1,112.0 L1455.2,112.6 L1455.3,113.2 L1455.4,113.8 L1455.5,114.4 L1455.5,115.0 L1455.6,115.6 L1455.7,116.2 L1455.8,116.8 L1455.9,117.4 L1456.0,118.0 L1456.1,118.6 L1456.1,119.2 L1456.2,119.8 L1456.3,120.4 L1456.4,121.0 L1456.5,121.8 L1456.7,123.1 L1456.8,121.7 L1456.8,120.9 L1456.9,120.3 L1456.9,119.7 L1456.9,119.0 L1457.0,118.4 L1457.0,117.8 L1457.1,117.2 L1457.1,116.5 L1457.2,114.8 L1457.4,112.0 L1457.6,108.0 L1457.9,102.9 L1458.1,98.9 L1458.3,96.1 L1458.4,94.4 L1458.4,93.7 L1458.5,93.1 L1458.5,92.5 L1458.6,91.9 L1458.6,91.2 L1458.6,90.6 L1458.7,90.0 L1458.7,89.2 L1458.8,87.8 L1458.9,89.1 L1459.0,89.9 L1459.1,90.5 L1459.1,91.1 L1459.2,91.7 L1459.3,92.3 L1459.3,92.9 L1459.4,93.5 L1459.5,94.1 L1459.5,94.7 L1459.6,95.2 L1459.6,95.8 L1459.7,96.4 L1459.8,97.0 L1459.8,97.6 L1459.9,98.2 L1460.0,98.8 L1460.0,99.4 L1460.1,100.0 L1460.1,100.6 L1460.2,101.2 L1460.3,101.8 L1460.3,102.4 L1460.3,103.0 L1460.4,103.7 L1460.4,104.3 L1460.4,104.9 L1460.5,105.5 L1460.5,106.2 L1460.5,106.8 L1460.5,107.4 L1460.6,108.0 L1460.6,108.7 L1460.7,109.8 L1460.7,111.5 L1460.8,113.6 L1461.0,116.4 L1461.1,118.5 L1461.1,120.2 L1461.2,121.3 L1461.2,122.0 L1461.3,122.6 L1461.3,123.2 L1461.3,123.8 L1461.3,124.5 L1461.4,125.1 L1461.4,125.7 L1461.4,126.3 L1461.5,127.0 L1461.6,127.5 L1461.8,127.9 L1462.1,128.1 L1462.5,128.3 L1462.9,128.5 L1463.4,128.6 L1463.8,128.8 L1464.2,129.0 L1464.5,129.2 L1464.8,129.6 L1464.9,130.1 L1465.0,130.7 L1465.1,131.4 L1465.2,132.0 L1465.2,132.6 L1465.3,133.2 L1465.4,133.8 L1465.5,134.5 L1465.6,135.1 L1465.6,135.7 L1465.7,136.6 L1465.9,137.6 L1466.1,138.9 L1466.2,140.5 L1466.4,141.8 L1466.6,142.8 L1466.7,143.7 L1466.7,144.3 L1466.8,144.9 L1466.9,145.6 L1467.0,146.2 L1467.1,146.8 L1467.1,147.4 L1467.2,148.0 L1467.3,148.7 L1467.4,149.3 L1467.5,149.9 L1467.5,150.5 L1467.6,151.0 L1467.7,151.6 L1467.8,152.2 L1467.8,152.7 L1467.9,153.3 L1468.0,153.9 L1468.1,154.4 L1468.1,155.0 L1468.2,155.6 L1468.3,156.1 L1468.4,156.7 L1468.4,157.3 L1468.5,157.8 L1468.6,158.4 L1468.7,159.0 L1468.7,159.5 L1468.8,160.1 L1468.9,160.7 L1469.0,161.2 L1469.0,161.8 L1469.1,162.4 L1469.2,162.9 L1469.3,163.5 L1469.3,164.1 L1469.4,164.6 L1469.5,165.2 L1469.6,165.8 L1469.6,166.3 L1469.7,166.9 L1469.8,167.5 L1469.9,168.0 L1470.1,168.5 L1470.3,169.0 L1470.6,169.5 L1470.8,170.0 L1471.1,170.5 L1471.4,171.0 L1471.6,171.5 L1471.9,172.0 L1472.2,172.4 L1472.5,172.9 L1472.7,173.4 L1473.0,173.9 L1473.3,174.4 L1473.5,174.9 L1473.8,175.4 L1474.1,175.8 L1474.5,176.2 L1475.0,176.5 L1475.5,176.8 L1476.0,177.2 L1476.5,177.4 L1477.0,177.8 L1477.5,178.0 L1478.0,178.3 L1478.5,178.7 L1479.0,179.0 L1479.5,179.2 L1480.0,179.5 L1480.5,179.7 L1481.1,179.8 L1481.6,179.8 L1482.2,179.9 L1482.8,179.9 L1483.3,179.9 L1483.9,180.0 L1484.5,180.0 L1485.0,180.1 L1485.6,180.1 L1486.2,180.2 L1486.8,180.2 L1487.3,180.3 L1487.9,180.3 L1488.5,180.4 L1489.0,180.4 L1489.6,180.4 L1490.3,180.5 L1491.6,180.6" stroke="#E5838A" stroke-width="3.2" fill="none" stroke-linejoin="round" stroke-linecap="butt"/>
<path d="M1496.4,181.8 L1753.5,181.8" stroke="#E5838A" stroke-width="3.2" fill="none" stroke-linejoin="round" stroke-linecap="butt"/>
<path d="M1005.0,332.3 L1006.4,332.3 L1007.2,332.3 L1007.8,332.3 L1008.4,332.3 L1009.1,332.3 L1009.7,332.3 L1010.3,332.3 L1010.9,332.3 L1011.6,332.3 L1027.2,332.3 L1057.7,332.3 L1103.2,332.3 L1163.7,332.3 L1209.2,332.3 L1239.8,332.3 L1255.3,332.3 L1256.0,332.3 L1256.6,332.3 L1257.2,332.3 L1257.8,332.3 L1258.5,332.3 L1259.1,332.3 L1259.7,332.3 L1260.3,332.3 L1261.0,332.3 L1261.5,332.2 L1261.9,331.9 L1262.1,331.4 L1262.3,330.8 L1262.4,330.3 L1262.5,329.7 L1262.7,329.1 L1262.8,328.5 L1263.0,327.9 L1263.1,327.4 L1263.3,326.8 L1263.4,326.2 L1263.6,325.6 L1263.7,325.0 L1263.8,324.5 L1264.0,323.9 L1264.1,323.3 L1264.2,322.7 L1264.3,322.1 L1264.4,321.4 L1264.4,320.8 L1264.5,320.2 L1264.5,319.6 L1264.6,319.0 L1264.7,318.3 L1264.7,317.7 L1264.8,317.1 L1264.9,316.5 L1265.0,315.5 L1265.1,314.2 L1265.2,312.5 L1265.5,310.5 L1265.6,308.8 L1265.7,307.5 L1265.8,306.5 L1265.9,305.9 L1266.0,305.3 L1266.0,304.7 L1266.1,304.0 L1266.2,303.4 L1266.2,302.8 L1266.3,302.2 L1266.3,301.6 L1266.4,300.9 L1266.5,300.3 L1266.5,299.7 L1266.6,299.1 L1266.7,298.4 L1266.8,297.8 L1266.9,297.2 L1266.9,296.6 L1267.0,296.0 L1267.1,295.3 L1267.2,294.7 L1267.2,294.1 L1267.3,293.5 L1267.4,292.5 L1267.6,291.2 L1267.8,289.5 L1268.1,287.4 L1268.3,285.7 L1268.5,284.4 L1268.6,283.4 L1268.7,282.8 L1268.7,282.2 L1268.8,281.6 L1268.9,280.9 L1269.0,280.3 L1269.0,279.7 L1269.1,279.1 L1269.2,278.5 L1269.3,277.8 L1269.3,277.2 L1269.4,276.6 L1269.4,276.0 L1269.5,275.3 L1269.5,274.7 L1269.5,274.1 L1269.6,273.5 L1269.6,272.8 L1269.6,272.2 L1269.7,271.6 L1269.7,271.0 L1269.7,270.3 L1269.8,269.4 L1269.9,268.0 L1269.9,266.4 L1270.1,264.3 L1270.1,262.7 L1270.2,261.3 L1270.3,260.4 L1270.3,259.7 L1270.3,259.1 L1270.4,258.5 L1270.4,257.9 L1270.4,257.2 L1270.5,256.6 L1270.5,256.0 L1270.5,255.4 L1270.6,254.7 L1270.6,254.1 L1270.6,253.5 L1270.7,252.9 L1270.7,252.3 L1270.8,251.6 L1270.8,251.0 L1270.9,250.4 L1270.9,249.8 L1271.0,249.2 L1271.0,248.5 L1271.1,247.9 L1271.1,247.3 L1271.2,246.7 L1271.2,246.1 L1271.3,245.5 L1271.3,244.8 L1271.4,244.2 L1271.4,243.6 L1271.5,243.0 L1271.5,242.4 L1271.6,241.8 L1271.6,241.1 L1271.7,240.5 L1271.7,239.9 L1271.8,239.3 L1271.8,238.7 L1271.9,237.9 L1272.0,236.5 L1272.2,237.8 L1272.3,238.6 L1272.4,239.2 L1272.4,239.8 L1272.5,240.4 L1272.6,241.0 L1272.7,241.6 L1272.8,242.2 L1272.9,242.8 L1272.9,243.4 L1273.0,244.0 L1273.1,244.6 L1273.2,245.2 L1273.3,245.8 L1273.3,246.3 L1273.4,246.9 L1273.5,247.5 L1273.6,248.1 L1273.7,248.7 L1273.7,249.3 L1273.8,249.9 L1273.9,250.5 L1274.0,251.1 L1274.1,251.7 L1274.2,252.3 L1274.2,252.9 L1274.3,253.5 L1274.4,254.3 L1274.6,255.6 L1274.8,254.2 L1274.9,253.4 L1274.9,252.8 L1275.0,252.2 L1275.1,251.6 L1275.2,250.9 L1275.2,250.3 L1275.3,249.7 L1275.4,249.1 L1275.5,248.1 L1275.7,246.8 L1275.9,245.2 L1276.1,243.1 L1276.3,241.5 L1276.5,240.2 L1276.6,239.2 L1276.7,238.6 L1276.8,238.0 L1276.8,237.4 L1276.9,236.7 L1277.0,236.1 L1277.1,235.5 L1277.1,234.9 L1277.2,234.1 L1277.4,232.7 L1277.5,234.1 L1277.5,234.9 L1277.5,235.5 L1277.6,236.1 L1277.6,236.8 L1277.6,237.4 L1277.6,238.0 L1277.7,238.6 L1277.7,239.3 L1277.7,240.5 L1277.8,242.3 L1277.9,244.7 L1278.1,247.6 L1278.2,250.0 L1278.3,251.8 L1278.3,253.0 L1278.3,253.7 L1278.4,254.3 L1278.4,254.9 L1278.4,255.5 L1278.4,256.2 L1278.5,256.8 L1278.5,257.4 L1278.5,258.0 L1278.6,258.7 L1278.6,259.3 L1278.6,259.9 L1278.7,260.5 L1278.8,261.2 L1278.8,261.8 L1278.9,262.4 L1278.9,263.0 L1279.0,263.6 L1279.1,264.3 L1279.1,264.9 L1279.2,265.5 L1279.3,266.1 L1279.4,267.5 L1279.6,269.5 L1279.9,272.3 L1280.2,275.7 L1280.5,278.5 L1280.7,280.5 L1280.8,281.9 L1280.9,282.5 L1281.0,283.1 L1281.0,283.7 L1281.1,284.4 L1281.2,285.0 L1281.2,285.6 L1281.3,286.2 L1281.3,286.8 L1281.4,287.5 L1281.5,288.1 L1281.6,288.7 L1281.6,289.3 L1281.7,289.9 L1281.8,290.6 L1281.9,291.2 L1282.0,291.8 L1282.1,292.4 L1282.2,293.0 L1282.3,293.7 L1282.4,294.3 L1282.5,294.9 L1282.6,295.9 L1282.8,297.2 L1283.1,298.9 L1283.4,301.0 L1283.7,302.7 L1283.9,304.0 L1284.0,305.0 L1284.1,305.6 L1284.2,306.2 L1284.3,306.9 L1284.4,307.5 L1284.5,308.1 L1284.6,308.7 L1284.7,309.3 L1284.8,310.0 L1284.9,310.6 L1285.0,311.2 L1285.1,311.8 L1285.2,312.4 L1285.3,313.0 L1285.4,313.6 L1285.5,314.2 L1285.7,314.8 L1285.8,315.4 L1285.9,316.0 L1286.0,316.6 L1286.1,317.2 L1286.3,317.8 L1286.4,318.4 L1286.5,319.0 L1286.6,319.6 L1286.8,320.2 L1286.9,320.8 L1287.0,321.4 L1287.1,322.0 L1287.2,322.6 L1287.4,323.2 L1287.5,323.8 L1287.6,324.4 L1287.7,325.0 L1287.9,325.5 L1288.1,326.0 L1288.4,326.4 L1288.7,326.8 L1289.1,327.1 L1289.4,327.4 L1289.7,327.8 L1290.1,328.1 L1290.4,328.5 L1290.7,328.8 L1291.1,329.1 L1291.4,329.5 L1291.8,329.8 L1292.2,330.0 L1292.7,330.2 L1293.3,330.4 L1293.8,330.5 L1294.3,330.6 L1294.9,330.8 L1295.4,330.9 L1296.0,331.1 L1296.5,331.2 L1297.1,331.4 L1297.6,331.5 L1298.2,331.7 L1298.7,331.8 L1299.2,331.9 L1299.8,332.1 L1300.3,332.2 L1300.9,332.3 L1301.5,332.3 L1302.2,332.3 L1302.8,332.3 L1303.4,332.3 L1304.0,332.3 L1304.7,332.3 L1305.3,332.3 L1305.9,332.3 L1306.5,332.3 L1307.2,332.3 L1334.6,332.3 L1388.9,332.3 L1470.1,332.3 L1578.0,332.3 L1659.2,332.3 L1713.5,332.3 L1740.9,332.3 L1741.6,332.3 L1742.2,332.3 L1742.8,332.3 L1743.4,332.3 L1744.1,332.3 L1744.7,332.3 L1745.3,332.3 L1746.1,332.3 L1747.5,332.3" stroke="#4673BF" stroke-width="3.2" fill="none" stroke-linejoin="round" stroke-linecap="butt"/>
<line x1="1014" y1="518.6" x2="1758.3" y2="518.6" stroke="#000" stroke-width="3.3"/>
<line x1="1035.4" y1="520.2" x2="1035.4" y2="530.5" stroke="#000" stroke-width="3.5"/>
<line x1="1215.1" y1="520.2" x2="1215.1" y2="530.5" stroke="#000" stroke-width="3.5"/>
<line x1="1374" y1="520.2" x2="1374" y2="530.5" stroke="#000" stroke-width="3.5"/>
<line x1="1520.1" y1="520.2" x2="1520.1" y2="530.5" stroke="#000" stroke-width="3.5"/>
<line x1="1683.1" y1="520.2" x2="1683.1" y2="530.5" stroke="#000" stroke-width="3.5"/>
<text x="1022.23" y="562.10" font-size="27.5">7</text>
<text x="1206.05" y="562.10" font-size="27.5">8</text>
<text x="1363.65" y="562.10" font-size="27.5">9</text>
<text x="1502.69" y="562.10" font-size="27.5">10</text>
<text x="1666.03" y="562.10" font-size="27.5">11</text>
<text x="1265.68" y="604.90" font-size="27.5">retention time (min)</text>
<text x="0.75" y="693.30" font-size="46">c</text>
<text x="300.52" y="745.90" font-size="27.5">Glu EIC:400.1099</text>
<text x="59.78" y="797.90" font-size="27.5">(i)</text>
<text x="59.78" y="988.20" font-size="27.5">(ii)</text>
<text x="59.78" y="1144.80" font-size="27.5">(iii)</text>
<path d="M65.0,877.7 L66.4,877.7 L67.2,877.7 L67.8,877.7 L68.4,877.7 L69.1,877.7 L69.7,877.7 L70.3,877.7 L70.9,877.7 L71.6,877.7 L93.0,877.7 L135.3,877.7 L198.4,877.7 L282.3,877.7 L345.3,877.7 L387.6,877.7 L409.0,877.7 L409.7,877.7 L410.3,877.7 L410.9,877.7 L411.5,877.7 L412.2,877.7 L412.8,877.7 L413.4,877.7 L414.0,877.7 L414.7,877.7 L415.2,877.7 L415.8,877.6 L416.3,877.4 L416.7,877.2 L417.2,877.0 L417.6,876.8 L418.1,876.6 L418.5,876.5 L419.0,876.3 L419.4,876.1 L420.0,875.8 L421.0,875.4 L422.3,875.7 L423.1,875.9 L423.7,876.0 L424.3,876.2 L424.9,876.3 L425.5,876.5 L426.0,876.6 L426.6,876.8 L427.2,876.9 L427.8,877.1 L428.4,877.2 L429.0,877.3 L429.6,877.5 L430.2,877.6 L430.8,877.7 L431.4,877.7 L432.1,877.7 L432.7,877.7 L433.3,877.7 L433.9,877.7 L434.6,877.7 L435.2,877.7 L435.8,877.7 L436.4,877.7 L437.1,877.7 L438.2,877.7 L439.7,877.7 L441.8,877.7 L444.2,877.7 L446.3,877.7 L447.8,877.7 L448.9,877.7 L449.6,877.7 L450.2,877.7 L450.8,877.7 L451.4,877.7 L452.1,877.7 L452.7,877.7 L453.3,877.7 L453.9,877.7 L454.6,877.7 L455.1,877.6 L455.5,877.4 L455.8,877.2 L456.1,876.8 L456.3,876.4 L456.5,876.0 L456.7,875.7 L457.0,875.3 L457.2,875.0 L457.4,874.6 L457.6,874.2 L457.9,873.8 L458.0,873.4 L458.2,872.9 L458.3,872.4 L458.3,871.7 L458.4,871.1 L458.4,870.5 L458.4,869.9 L458.5,869.2 L458.5,868.6 L458.6,868.0 L458.6,867.4 L458.7,866.8 L458.7,866.0 L458.8,865.0 L458.9,863.8 L458.9,862.5 L459.0,861.3 L459.1,860.3 L459.1,859.5 L459.2,858.9 L459.2,858.3 L459.3,857.7 L459.3,857.1 L459.4,856.4 L459.4,855.8 L459.4,855.2 L459.5,854.6 L459.5,853.9 L459.6,853.3 L459.6,852.7 L459.7,852.1 L459.7,851.4 L459.8,850.8 L459.8,850.2 L459.9,849.6 L459.9,848.9 L459.9,848.3 L460.0,847.7 L460.0,847.1 L460.1,846.5 L460.2,845.2 L460.3,843.4 L460.5,841.0 L460.7,837.9 L460.9,835.5 L461.0,833.7 L461.1,832.4 L461.2,831.8 L461.2,831.2 L461.3,830.6 L461.3,830.0 L461.3,829.3 L461.4,828.7 L461.4,828.1 L461.5,827.5 L461.5,826.8 L461.6,826.2 L461.6,825.6 L461.7,825.0 L461.7,824.3 L461.7,823.7 L461.8,823.1 L461.8,822.5 L461.8,821.8 L461.9,821.2 L461.9,820.6 L462.0,820.0 L462.0,819.3 L462.1,817.7 L462.2,815.0 L462.5,811.4 L462.7,806.6 L463.0,803.0 L463.1,800.3 L463.2,798.7 L463.2,798.0 L463.3,797.4 L463.3,796.8 L463.4,796.2 L463.4,795.5 L463.4,794.9 L463.5,794.3 L463.5,793.7 L463.5,793.0 L463.6,792.4 L463.6,791.8 L463.7,791.3 L463.7,790.7 L463.8,790.1 L463.9,789.6 L463.9,789.0 L464.0,788.4 L464.0,787.9 L464.1,787.3 L464.2,786.7 L464.2,786.1 L464.3,785.6 L464.3,785.0 L464.4,784.4 L464.4,783.9 L464.5,783.3 L464.6,782.8 L464.6,782.2 L464.7,781.6 L464.7,781.0 L464.8,780.5 L464.9,779.9 L464.9,779.3 L465.0,778.8 L465.1,778.4 L465.3,777.9 L465.5,777.6 L465.7,777.2 L465.9,776.8 L466.1,776.4 L466.3,776.1 L466.5,775.7 L466.7,775.3 L466.9,774.8 L467.4,774.0 L467.8,775.1 L468.0,775.8 L468.2,776.2 L468.3,776.8 L468.5,777.2 L468.7,777.8 L468.8,778.2 L469.0,778.8 L469.2,779.2 L469.4,779.8 L469.5,780.2 L469.7,780.8 L469.9,781.2 L470.0,781.8 L470.2,782.2 L470.4,782.8 L470.5,783.2 L470.7,783.8 L470.8,784.3 L470.9,784.9 L470.9,785.6 L471.0,786.2 L471.0,786.8 L471.1,787.4 L471.1,788.1 L471.1,788.7 L471.2,789.3 L471.2,789.9 L471.3,790.5 L471.4,791.4 L471.4,792.6 L471.5,794.0 L471.7,795.6 L471.8,797.0 L471.8,798.2 L471.9,799.1 L472.0,799.7 L472.0,800.3 L472.1,800.9 L472.1,801.5 L472.1,802.2 L472.2,802.8 L472.2,803.4 L472.3,804.0 L472.3,804.7 L472.4,805.3 L472.4,805.9 L472.5,806.5 L472.5,807.2 L472.6,807.8 L472.6,808.4 L472.7,809.0 L472.7,809.7 L472.8,810.3 L472.8,810.9 L472.9,811.5 L472.9,812.1 L473.0,813.4 L473.1,815.2 L473.3,817.6 L473.6,820.7 L473.8,823.1 L473.9,824.9 L474.0,826.2 L474.0,826.8 L474.1,827.4 L474.1,828.0 L474.2,828.6 L474.2,829.3 L474.3,829.9 L474.3,830.5 L474.4,831.1 L474.4,831.8 L474.5,832.4 L474.5,833.0 L474.6,833.6 L474.7,834.3 L474.7,834.9 L474.8,835.5 L474.9,836.1 L475.0,836.7 L475.0,837.4 L475.1,838.0 L475.2,838.6 L475.2,839.2 L475.4,840.7 L475.6,842.9 L476.0,846.0 L476.4,849.9 L476.8,853.0 L477.0,855.2 L477.2,856.7 L477.2,857.3 L477.3,857.9 L477.4,858.5 L477.4,859.2 L477.5,859.8 L477.6,860.4 L477.7,861.0 L477.7,861.6 L477.8,862.3 L477.9,862.8 L478.0,863.4 L478.1,863.9 L478.2,864.4 L478.3,864.8 L478.5,865.3 L478.6,865.7 L478.7,866.2 L478.8,866.7 L479.0,867.1 L479.1,867.6 L479.2,868.1 L479.3,868.5 L479.5,869.0 L479.6,869.4 L479.7,869.9 L479.9,870.3 L480.2,870.7 L480.5,871.1 L480.9,871.5 L481.3,871.8 L481.7,872.1 L482.1,872.5 L482.4,872.8 L482.8,873.2 L483.2,873.5 L483.6,873.8 L484.0,874.2 L484.4,874.5 L484.9,874.6 L485.4,874.8 L485.9,874.8 L486.4,874.8 L486.9,874.9 L487.4,874.9 L487.9,874.9 L488.4,875.0 L488.9,875.0 L489.4,875.0 L490.0,875.1 L490.5,875.1 L491.0,875.1 L491.5,875.2 L492.0,875.2 L492.5,875.2 L493.0,875.3 L493.5,875.3 L494.0,875.3 L494.6,875.4 L495.1,875.4 L495.7,875.5 L496.4,875.5 L497.0,875.5 L497.6,875.6 L498.2,875.6 L498.9,875.7 L499.5,875.7 L500.1,875.7 L500.7,875.8 L501.3,875.8 L502.5,875.9 L504.0,876.0 L506.1,876.1 L508.7,876.3 L510.8,876.4 L512.3,876.5 L513.5,876.6 L514.1,876.6 L514.7,876.7 L515.3,876.7 L515.9,876.7 L516.6,876.8 L517.2,876.8 L517.8,876.9 L518.4,876.9 L519.1,876.9 L519.7,877.0 L520.3,877.0 L520.9,877.0 L521.6,877.0 L522.2,877.0 L522.8,877.0 L523.4,877.1 L524.1,877.1 L524.7,877.1 L525.3,877.1 L525.9,877.1 L526.6,877.1 L528.6,877.2 L532.0,877.2 L536.9,877.3 L543.1,877.4 L548.0,877.5 L551.4,877.5 L553.4,877.6 L554.1,877.6 L554.7,877.6 L555.3,877.6 L555.9,877.6 L556.6,877.6 L557.2,877.7 L557.8,877.7 L558.4,877.7 L559.1,877.7 L559.7,877.7 L560.3,877.7 L560.9,877.7 L561.6,877.7 L562.2,877.7 L562.8,877.7 L563.4,877.7 L564.1,877.7 L564.7,877.7 L565.3,877.7 L565.9,877.7 L566.6,877.7 L581.8,877.7 L611.8,877.7 L656.4,877.7 L715.6,877.7 L760.2,877.7 L790.2,877.7 L805.4,877.7 L806.1,877.7 L806.7,877.7 L807.3,877.7 L807.9,877.7 L808.6,877.7 L809.2,877.7 L809.8,877.7 L810.6,877.7 L812.0,877.7" stroke="#E5838A" stroke-width="3.2" fill="none" stroke-linejoin="round" stroke-linecap="butt"/>
<path d="M61.0,1028.0 L62.4,1028.0 L63.2,1028.0 L63.8,1028.0 L64.4,1028.0 L65.1,1028.0 L65.7,1028.0 L66.3,1028.0 L66.9,1028.0 L67.6,1028.0 L88.5,1028.0 L129.9,1028.0 L191.5,1028.0 L273.6,1028.0 L335.2,1028.0 L376.6,1028.0 L397.5,1028.0 L398.2,1028.0 L398.8,1028.0 L399.4,1028.0 L400.0,1028.0 L400.7,1028.0 L401.3,1028.0 L401.9,1028.0 L402.5,1028.0 L403.2,1028.0 L403.7,1027.9 L404.1,1027.7 L404.4,1027.4 L404.6,1027.0 L404.8,1026.6 L405.0,1026.2 L405.2,1025.8 L405.4,1025.5 L405.6,1025.1 L405.8,1024.7 L406.0,1024.3 L406.2,1023.9 L406.4,1023.5 L406.5,1023.0 L406.6,1022.5 L406.7,1021.9 L406.8,1021.3 L406.9,1020.8 L407.0,1020.2 L407.1,1019.6 L407.2,1019.1 L407.3,1018.5 L407.4,1018.0 L407.5,1017.4 L407.6,1016.8 L407.7,1016.3 L407.8,1015.7 L407.9,1015.1 L408.0,1014.6 L408.0,1014.0 L408.1,1013.5 L408.2,1012.9 L408.3,1012.3 L408.4,1011.8 L408.5,1011.2 L408.6,1010.6 L408.7,1010.1 L408.8,1009.5 L408.9,1009.0 L409.0,1008.4 L409.1,1007.8 L409.2,1007.3 L409.3,1006.7 L409.4,1006.1 L409.4,1005.6 L409.5,1005.0 L409.6,1004.4 L409.6,1003.7 L409.6,1003.1 L409.7,1002.5 L409.7,1001.9 L409.8,1001.2 L409.8,1000.6 L409.9,1000.0 L409.9,999.4 L409.9,998.8 L410.1,997.0 L410.3,994.0 L410.5,989.9 L410.9,984.6 L411.1,980.5 L411.3,977.5 L411.5,975.7 L411.5,975.1 L411.5,974.5 L411.6,973.9 L411.6,973.3 L411.7,972.6 L411.7,972.0 L411.8,971.4 L411.8,970.8 L411.8,970.1 L411.9,969.5 L411.9,968.9 L412.0,968.3 L412.0,967.6 L412.1,967.0 L412.1,966.4 L412.2,965.8 L412.3,965.2 L412.3,964.5 L412.4,963.9 L412.4,963.3 L412.5,962.7 L412.6,961.4 L412.7,959.6 L413.0,957.2 L413.2,954.1 L413.5,951.7 L413.6,949.9 L413.7,948.6 L413.8,948.0 L413.8,947.4 L413.9,946.8 L413.9,946.1 L414.0,945.5 L414.1,944.9 L414.1,944.3 L414.2,943.7 L414.2,943.0 L414.3,942.4 L414.4,941.9 L414.4,941.3 L414.5,940.8 L414.6,940.2 L414.7,939.7 L414.8,939.2 L414.9,938.6 L414.9,938.1 L415.0,937.6 L415.1,937.0 L415.2,936.5 L415.3,936.0 L415.4,935.4 L415.5,934.9 L415.5,934.4 L415.6,933.9 L415.7,933.3 L415.8,932.8 L415.9,932.3 L416.0,931.7 L416.1,931.2 L416.1,930.7 L416.2,930.1 L416.3,929.6 L416.4,929.1 L416.5,928.4 L416.7,927.2 L416.9,928.5 L417.0,929.2 L417.0,929.7 L417.1,930.3 L417.2,930.8 L417.3,931.4 L417.3,932.0 L417.4,932.5 L417.5,933.1 L417.6,933.6 L417.6,934.2 L417.7,934.8 L417.8,935.3 L417.9,935.9 L417.9,936.4 L418.0,937.0 L418.1,937.5 L418.2,938.1 L418.2,938.7 L418.3,939.2 L418.4,939.8 L418.5,940.3 L418.5,940.9 L418.6,941.5 L418.7,942.0 L418.8,942.6 L418.8,943.1 L418.9,943.7 L419.0,944.3 L419.1,944.8 L419.1,945.4 L419.2,946.0 L419.3,946.7 L419.3,947.3 L419.4,947.9 L419.4,948.5 L419.5,949.1 L419.6,949.8 L419.6,950.4 L419.7,951.0 L419.8,951.6 L419.9,952.7 L420.0,954.1 L420.2,956.0 L420.4,958.3 L420.6,960.2 L420.7,961.6 L420.8,962.7 L420.9,963.3 L421.0,963.9 L421.0,964.5 L421.1,965.2 L421.2,965.8 L421.2,966.4 L421.3,967.0 L421.3,967.6 L421.4,968.3 L421.5,968.9 L421.5,969.5 L421.6,970.1 L421.6,970.8 L421.7,971.4 L421.7,972.0 L421.8,972.6 L421.8,973.3 L421.9,973.9 L421.9,974.5 L421.9,975.1 L422.0,975.7 L422.1,976.8 L422.2,978.2 L422.3,980.1 L422.5,982.3 L422.6,984.2 L422.7,985.6 L422.8,986.7 L422.9,987.3 L422.9,987.9 L422.9,988.5 L423.0,989.1 L423.0,989.8 L423.1,990.4 L423.1,991.0 L423.2,991.6 L423.2,992.3 L423.3,992.9 L423.3,993.4 L423.4,994.0 L423.5,994.5 L423.5,995.1 L423.6,995.6 L423.7,996.2 L423.7,996.7 L423.8,997.2 L423.8,997.8 L423.9,998.3 L424.0,998.9 L424.0,999.4 L424.1,999.9 L424.2,1000.5 L424.2,1001.0 L424.3,1001.6 L424.4,1002.1 L424.4,1002.6 L424.5,1003.2 L424.6,1003.7 L424.6,1004.3 L424.7,1004.8 L424.7,1005.3 L424.8,1005.9 L424.9,1006.4 L424.9,1007.0 L425.0,1007.5 L425.1,1008.0 L425.3,1008.5 L425.5,1009.0 L425.8,1009.5 L426.0,1010.0 L426.3,1010.5 L426.5,1011.0 L426.8,1011.5 L427.1,1012.0 L427.3,1012.4 L427.6,1012.9 L427.9,1013.4 L428.1,1013.9 L428.4,1014.4 L428.6,1014.9 L428.9,1015.4 L429.2,1015.9 L429.4,1016.4 L429.6,1016.9 L429.9,1017.4 L430.1,1017.9 L430.3,1018.5 L430.5,1019.0 L430.8,1019.5 L431.0,1020.0 L431.2,1020.6 L431.4,1021.1 L431.7,1021.6 L431.9,1022.1 L432.1,1022.7 L432.3,1023.2 L432.6,1023.7 L432.8,1024.2 L433.2,1024.5 L433.6,1024.8 L434.0,1025.0 L434.5,1025.2 L435.0,1025.3 L435.4,1025.5 L435.9,1025.7 L436.3,1025.9 L436.8,1026.1 L437.2,1026.3 L437.7,1026.5 L438.1,1026.7 L438.6,1026.8 L439.1,1027.0 L439.5,1027.2 L440.0,1027.4 L440.5,1027.5 L441.0,1027.5 L441.6,1027.5 L442.2,1027.6 L442.7,1027.6 L443.3,1027.6 L443.9,1027.6 L444.4,1027.6 L445.0,1027.7 L445.5,1027.7 L446.1,1027.7 L446.7,1027.7 L447.2,1027.7 L447.8,1027.8 L448.4,1027.8 L448.9,1027.7 L449.5,1027.7 L450.0,1027.6 L450.5,1027.4 L451.0,1027.3 L451.6,1027.1 L452.2,1026.9 L453.4,1026.6 L454.4,1027.0 L455.0,1027.2 L455.4,1027.4 L455.9,1027.6 L456.3,1027.7 L456.8,1027.9 L457.4,1028.0 L457.9,1028.0 L458.6,1028.0 L459.2,1028.0 L459.8,1028.0 L460.4,1028.0 L461.1,1028.0 L461.7,1028.0 L462.3,1028.0 L462.9,1028.0 L463.6,1028.0 L485.4,1028.0 L528.5,1028.0 L592.8,1028.0 L678.2,1028.0 L742.5,1028.0 L785.6,1028.0 L807.4,1028.0 L808.1,1028.0 L808.7,1028.0 L809.3,1028.0 L809.9,1028.0 L810.6,1028.0 L811.2,1028.0 L811.8,1028.0 L812.6,1028.0 L814.0,1028.0" stroke="#4673BF" stroke-width="3.2" fill="none" stroke-linejoin="round" stroke-linecap="butt"/>
<path d="M62.5,1177.7 L63.9,1177.7 L64.7,1177.7 L65.3,1177.7 L65.9,1177.7 L66.6,1177.7 L67.2,1177.7 L67.8,1177.7 L68.4,1177.7 L69.1,1177.7 L90.3,1177.7 L132.2,1177.7 L194.7,1177.7 L277.8,1177.7 L340.3,1177.7 L382.2,1177.7 L403.4,1177.7 L404.1,1177.7 L404.7,1177.7 L405.3,1177.7 L405.9,1177.7 L406.6,1177.7 L407.2,1177.7 L407.8,1177.7 L408.4,1177.7 L409.1,1177.7 L409.6,1177.6 L410.1,1177.5 L410.5,1177.4 L410.9,1177.2 L411.3,1177.0 L411.6,1176.7 L412.1,1176.5 L412.9,1176.0 L413.8,1176.5 L414.3,1176.7 L414.6,1177.0 L415.0,1177.2 L415.4,1177.4 L415.9,1177.5 L416.4,1177.6 L416.9,1177.7 L417.6,1177.7 L418.2,1177.7 L418.8,1177.7 L419.4,1177.7 L420.1,1177.7 L420.7,1177.7 L421.3,1177.7 L421.9,1177.7 L422.6,1177.7 L424.5,1177.7 L427.7,1177.7 L432.2,1177.7 L438.0,1177.7 L442.5,1177.7 L445.7,1177.7 L447.6,1177.7 L448.3,1177.7 L448.9,1177.7 L449.5,1177.7 L450.1,1177.7 L450.8,1177.7 L451.4,1177.7 L452.0,1177.7 L452.6,1177.7 L453.3,1177.7 L453.8,1177.6 L454.1,1177.3 L454.3,1176.9 L454.4,1176.3 L454.6,1175.8 L454.6,1175.2 L454.8,1174.6 L454.8,1174.1 L454.9,1173.5 L455.1,1173.0 L455.2,1172.4 L455.2,1171.9 L455.3,1171.3 L455.4,1170.8 L455.5,1170.2 L455.7,1169.7 L455.8,1169.1 L455.9,1168.5 L455.9,1168.0 L456.1,1167.4 L456.1,1166.9 L456.2,1166.3 L456.3,1165.7 L456.4,1165.0 L456.4,1164.4 L456.5,1163.8 L456.5,1163.2 L456.6,1162.6 L456.7,1161.9 L456.7,1161.3 L456.8,1160.7 L456.9,1160.1 L457.0,1158.8 L457.2,1157.0 L457.4,1154.6 L457.7,1151.5 L457.9,1149.1 L458.1,1147.3 L458.2,1146.0 L458.3,1145.4 L458.4,1144.8 L458.4,1144.2 L458.5,1143.5 L458.6,1142.9 L458.6,1142.3 L458.7,1141.7 L458.7,1141.1 L458.8,1140.4 L458.9,1139.8 L458.9,1139.2 L459.0,1138.6 L459.1,1137.9 L459.1,1137.3 L459.2,1136.7 L459.2,1136.1 L459.3,1135.5 L459.4,1134.8 L459.4,1134.2 L459.5,1133.6 L459.6,1133.0 L459.7,1131.7 L459.9,1129.9 L460.1,1127.5 L460.4,1124.4 L460.6,1122.0 L460.8,1120.2 L460.9,1118.9 L461.0,1118.3 L461.1,1117.7 L461.1,1117.1 L461.2,1116.4 L461.3,1115.8 L461.3,1115.2 L461.4,1114.6 L461.4,1114.0 L461.5,1113.3 L461.6,1112.7 L461.6,1112.1 L461.7,1111.5 L461.7,1110.8 L461.8,1110.2 L461.8,1109.6 L461.9,1109.0 L461.9,1108.4 L462.0,1107.7 L462.0,1107.1 L462.1,1106.5 L462.2,1105.9 L462.2,1104.8 L462.4,1103.4 L462.5,1101.6 L462.7,1099.5 L462.8,1097.7 L463.0,1096.3 L463.0,1095.2 L463.1,1094.6 L463.2,1094.0 L463.2,1093.4 L463.3,1092.7 L463.3,1092.1 L463.4,1091.5 L463.4,1090.9 L463.5,1090.3 L463.5,1089.6 L463.6,1089.0 L463.6,1088.4 L463.7,1087.8 L463.8,1087.2 L463.9,1086.6 L463.9,1086.0 L464.0,1085.4 L464.1,1084.8 L464.2,1084.2 L464.2,1083.6 L464.3,1083.0 L464.4,1082.4 L464.5,1081.8 L464.5,1081.2 L464.6,1080.6 L464.7,1080.0 L464.8,1079.4 L464.8,1078.8 L464.9,1078.0 L465.1,1076.7 L465.3,1077.9 L465.3,1078.6 L465.4,1079.2 L465.5,1079.7 L465.5,1080.3 L465.6,1080.8 L465.7,1081.4 L465.7,1081.9 L465.8,1082.5 L465.9,1083.0 L465.9,1083.6 L466.0,1084.1 L466.1,1084.7 L466.2,1085.2 L466.2,1085.8 L466.3,1086.3 L466.4,1086.9 L466.4,1087.4 L466.5,1088.0 L466.6,1088.5 L466.6,1089.1 L466.7,1089.6 L466.8,1090.2 L466.8,1090.7 L466.9,1091.3 L467.0,1091.8 L467.0,1092.4 L467.1,1093.0 L467.2,1093.7 L467.3,1094.3 L467.4,1094.9 L467.4,1095.5 L467.5,1096.1 L467.6,1096.8 L467.7,1097.4 L467.7,1098.0 L467.8,1098.6 L468.0,1099.8 L468.2,1101.7 L468.5,1104.1 L468.9,1107.2 L469.2,1109.6 L469.4,1111.5 L469.6,1112.7 L469.7,1113.3 L469.7,1113.9 L469.8,1114.5 L469.9,1115.2 L470.0,1115.8 L470.0,1116.4 L470.1,1117.0 L470.2,1117.6 L470.3,1118.3 L470.4,1118.9 L470.4,1119.5 L470.5,1120.1 L470.6,1120.8 L470.7,1121.4 L470.8,1122.0 L470.8,1122.6 L470.9,1123.2 L471.0,1123.9 L471.1,1124.5 L471.1,1125.1 L471.2,1125.7 L471.4,1126.9 L471.6,1128.8 L471.9,1131.2 L472.3,1134.2 L472.6,1136.6 L472.8,1138.5 L473.0,1139.7 L473.1,1140.3 L473.1,1140.9 L473.2,1141.5 L473.3,1142.2 L473.4,1142.8 L473.4,1143.4 L473.5,1144.0 L473.6,1144.6 L473.7,1145.3 L473.8,1145.9 L473.8,1146.5 L473.9,1147.1 L474.0,1147.7 L474.1,1148.3 L474.2,1148.9 L474.3,1149.5 L474.3,1150.1 L474.4,1150.7 L474.5,1151.2 L474.6,1151.8 L474.7,1152.4 L474.8,1153.0 L474.9,1153.6 L474.9,1154.2 L475.0,1154.8 L475.1,1155.4 L475.2,1156.0 L475.3,1156.6 L475.4,1157.2 L475.4,1157.8 L475.5,1158.4 L475.6,1159.0 L475.7,1159.6 L475.8,1160.2 L475.9,1160.7 L476.0,1161.3 L476.0,1161.9 L476.1,1162.5 L476.2,1163.1 L476.3,1163.7 L476.4,1164.3 L476.5,1164.9 L476.7,1165.4 L476.9,1165.9 L477.2,1166.4 L477.5,1166.8 L477.8,1167.3 L478.1,1167.8 L478.4,1168.2 L478.7,1168.7 L479.0,1169.2 L479.3,1169.7 L479.6,1170.1 L479.9,1170.6 L480.2,1171.1 L480.5,1171.5 L480.8,1172.0 L481.1,1172.4 L481.4,1172.7 L481.8,1173.0 L482.3,1173.2 L482.7,1173.4 L483.1,1173.6 L483.5,1173.8 L484.0,1174.0 L484.4,1174.2 L484.8,1174.5 L485.2,1174.7 L485.7,1174.9 L486.1,1175.1 L486.5,1175.3 L486.9,1175.5 L487.4,1175.7 L487.8,1175.9 L488.3,1176.0 L488.9,1176.1 L489.4,1176.1 L490.0,1176.2 L490.6,1176.3 L491.1,1176.3 L491.7,1176.4 L492.2,1176.4 L492.8,1176.5 L493.4,1176.6 L494.0,1176.6 L494.5,1176.7 L495.1,1176.7 L495.6,1176.8 L496.2,1176.8 L496.8,1176.9 L497.4,1177.0 L497.9,1177.0 L498.5,1177.1 L499.0,1177.1 L499.6,1177.2 L500.2,1177.3 L500.8,1177.3 L501.3,1177.4 L501.9,1177.4 L502.5,1177.4 L503.2,1177.4 L503.8,1177.4 L504.4,1177.4 L505.0,1177.4 L505.7,1177.4 L506.3,1177.4 L506.9,1177.4 L507.5,1177.4 L508.2,1177.4 L527.2,1177.4 L564.7,1177.5 L620.6,1177.5 L695.0,1177.6 L750.9,1177.6 L788.4,1177.7 L807.4,1177.7 L808.1,1177.7 L808.7,1177.7 L809.3,1177.7 L809.9,1177.7 L810.6,1177.7 L811.2,1177.7 L811.8,1177.7 L812.6,1177.7 L814.0,1177.7" stroke="#52A77C" stroke-width="3.2" fill="none" stroke-linejoin="round" stroke-linecap="butt"/>
<line x1="63.7" y1="1217.3" x2="806.5" y2="1217.3" stroke="#000" stroke-width="3.3"/>
<line x1="66" y1="1219" x2="66" y2="1229.0" stroke="#000" stroke-width="3.5"/>
<line x1="231.9" y1="1219" x2="231.9" y2="1229.0" stroke="#000" stroke-width="3.5"/>
<line x1="393.3" y1="1219" x2="393.3" y2="1229.0" stroke="#000" stroke-width="3.5"/>
<line x1="554.3" y1="1219" x2="554.3" y2="1229.0" stroke="#000" stroke-width="3.5"/>
<line x1="721.4" y1="1219" x2="721.4" y2="1229.0" stroke="#000" stroke-width="3.5"/>
<text x="56.83" y="1254.80" font-size="27.5">7</text>
<text x="219.45" y="1254.80" font-size="27.5">8</text>
<text x="380.45" y="1254.80" font-size="27.5">9</text>
<text x="534.39" y="1254.80" font-size="27.5">10</text>
<text x="703.62" y="1254.80" font-size="27.5">11</text>
<text x="314.08" y="1299.00" font-size="27.5">retention time (min)</text>
<text x="913.84" y="693.50" font-size="46">d</text>
<text x="1293.83" y="744.50" font-size="27.5">Leu EIC:384.1514</text>
<text x="1017.88" y="797.00" font-size="27.5">(i)</text>
<text x="1017.88" y="987.70" font-size="27.5">(ii)</text>
<text x="1017.88" y="1144.60" font-size="27.5">(iii)</text>
<path d="M1021.0,879.0 L1022.4,879.0 L1023.2,879.0 L1023.8,879.0 L1024.4,879.0 L1025.1,879.0 L1025.7,879.0 L1026.3,879.0 L1026.9,879.0 L1027.6,879.0 L1039.7,879.0 L1063.4,879.0 L1098.6,879.1 L1145.3,879.1 L1180.5,879.2 L1204.2,879.2 L1216.3,879.2 L1217.0,879.2 L1217.6,879.2 L1218.2,879.2 L1218.8,879.2 L1219.5,879.2 L1220.1,879.2 L1220.7,879.2 L1221.3,879.2 L1222.0,879.2 L1222.6,879.1 L1223.1,879.0 L1223.6,878.9 L1224.1,878.6 L1224.6,878.4 L1225.1,878.2 L1225.6,877.9 L1226.1,877.7 L1226.6,877.5 L1227.1,877.2 L1227.6,877.0 L1228.1,876.8 L1228.6,876.6 L1229.1,876.3 L1229.6,876.1 L1230.1,875.9 L1230.6,875.6 L1231.1,875.4 L1231.7,875.1 L1232.8,874.6 L1234.1,875.0 L1234.8,875.3 L1235.3,875.5 L1235.9,875.7 L1236.4,875.9 L1237.0,876.1 L1237.5,876.3 L1238.1,876.5 L1238.7,876.7 L1239.2,876.9 L1239.7,877.0 L1240.2,877.1 L1240.7,877.2 L1241.2,877.3 L1241.7,877.4 L1242.2,877.4 L1242.7,877.5 L1243.2,877.6 L1243.7,877.7 L1244.2,877.8 L1244.7,877.8 L1245.2,877.9 L1245.7,878.0 L1246.2,878.1 L1246.7,878.2 L1247.2,878.2 L1247.7,878.3 L1248.2,878.4 L1248.7,878.5 L1249.2,878.5 L1249.7,878.6 L1250.3,878.6 L1251.0,878.6 L1251.6,878.6 L1252.2,878.6 L1252.8,878.6 L1253.5,878.6 L1254.1,878.6 L1254.7,878.6 L1255.3,878.6 L1256.0,878.6 L1265.2,878.6 L1283.0,878.7 L1309.3,878.8 L1344.3,878.8 L1370.6,878.9 L1388.4,879.0 L1397.6,879.0 L1398.3,879.0 L1398.9,879.0 L1399.5,879.0 L1400.1,879.0 L1400.8,879.0 L1401.4,879.0 L1402.0,879.0 L1402.6,879.0 L1403.3,879.0 L1403.8,878.9 L1404.2,878.7 L1404.6,878.3 L1404.8,877.9 L1405.1,877.4 L1405.4,877.0 L1405.6,876.6 L1405.9,876.1 L1406.1,875.7 L1406.4,875.2 L1406.6,874.8 L1406.9,874.3 L1407.1,873.9 L1407.4,873.5 L1407.7,873.0 L1407.9,872.6 L1408.1,872.1 L1408.3,871.5 L1408.4,871.0 L1408.4,870.3 L1408.5,869.7 L1408.5,869.1 L1408.6,868.5 L1408.6,867.8 L1408.6,867.2 L1408.7,866.6 L1408.7,866.0 L1408.8,865.4 L1408.9,864.1 L1409.0,862.3 L1409.2,859.9 L1409.4,856.8 L1409.6,854.4 L1409.7,852.6 L1409.8,851.3 L1409.9,850.7 L1409.9,850.1 L1410.0,849.5 L1410.0,848.9 L1410.0,848.2 L1410.1,847.6 L1410.1,847.0 L1410.2,846.4 L1410.2,845.7 L1410.3,845.1 L1410.3,844.5 L1410.4,843.9 L1410.4,843.2 L1410.5,842.6 L1410.5,842.0 L1410.6,841.4 L1410.6,840.8 L1410.7,840.1 L1410.7,839.5 L1410.8,838.9 L1410.8,838.3 L1411.0,836.6 L1411.2,833.9 L1411.5,830.2 L1411.8,825.5 L1412.1,821.8 L1412.3,819.1 L1412.5,817.4 L1412.5,816.8 L1412.6,816.2 L1412.6,815.6 L1412.7,814.9 L1412.7,814.3 L1412.8,813.7 L1412.8,813.1 L1412.9,812.5 L1412.9,811.8 L1413.0,811.2 L1413.0,810.6 L1413.1,810.0 L1413.1,809.3 L1413.2,808.7 L1413.2,808.1 L1413.3,807.5 L1413.4,806.9 L1413.4,806.2 L1413.5,805.6 L1413.5,805.0 L1413.6,804.4 L1413.7,802.9 L1413.9,800.7 L1414.2,797.6 L1414.5,793.8 L1414.8,790.7 L1415.0,788.5 L1415.1,787.0 L1415.2,786.4 L1415.2,785.8 L1415.3,785.2 L1415.3,784.5 L1415.4,783.9 L1415.5,783.3 L1415.5,782.7 L1415.6,782.1 L1415.6,781.4 L1415.7,780.8 L1415.8,780.2 L1415.8,779.6 L1415.9,779.0 L1416.0,778.3 L1416.1,777.7 L1416.2,777.1 L1416.3,776.5 L1416.4,775.9 L1416.5,775.2 L1416.6,774.6 L1416.7,774.0 L1416.8,773.0 L1417.0,771.7 L1417.3,770.1 L1417.6,768.0 L1417.9,766.4 L1418.1,765.1 L1418.2,764.1 L1418.3,763.5 L1418.4,762.9 L1418.5,762.2 L1418.6,761.6 L1418.7,761.0 L1418.8,760.4 L1418.9,759.8 L1419.0,759.0 L1419.2,757.6 L1419.3,759.0 L1419.3,759.8 L1419.3,760.4 L1419.3,761.0 L1419.4,761.7 L1419.4,762.3 L1419.4,762.9 L1419.4,763.5 L1419.5,764.2 L1419.5,766.2 L1419.7,769.6 L1419.9,774.4 L1420.1,780.6 L1420.3,785.4 L1420.5,788.8 L1420.5,790.8 L1420.6,791.5 L1420.6,792.1 L1420.6,792.7 L1420.6,793.3 L1420.7,794.0 L1420.7,794.6 L1420.7,795.2 L1420.7,796.0 L1420.8,797.4 L1420.9,796.0 L1420.9,795.3 L1421.0,794.7 L1421.0,794.1 L1421.0,793.5 L1421.1,792.9 L1421.1,792.3 L1421.1,791.7 L1421.2,791.1 L1421.2,790.5 L1421.2,789.9 L1421.3,789.3 L1421.3,788.6 L1421.4,788.0 L1421.4,787.4 L1421.4,786.8 L1421.5,786.2 L1421.5,785.6 L1421.5,785.0 L1421.6,784.4 L1421.6,783.8 L1421.6,783.2 L1421.7,782.6 L1421.7,782.0 L1421.7,781.4 L1421.8,780.8 L1422.0,780.3 L1422.2,779.9 L1422.6,779.4 L1422.9,779.0 L1423.1,778.6 L1423.5,778.1 L1424.2,777.1 L1424.3,778.5 L1424.4,779.2 L1424.4,779.8 L1424.5,780.4 L1424.5,781.0 L1424.5,781.6 L1424.6,782.2 L1424.6,782.8 L1424.7,783.4 L1424.7,784.0 L1424.8,784.6 L1424.8,785.2 L1424.9,785.9 L1424.9,786.5 L1425.0,787.1 L1425.0,787.7 L1425.1,788.3 L1425.1,788.9 L1425.2,789.5 L1425.2,790.1 L1425.2,790.7 L1425.3,791.3 L1425.3,791.9 L1425.4,792.5 L1425.4,793.1 L1425.6,793.6 L1425.8,794.1 L1426.1,794.6 L1426.6,795.0 L1427.0,795.4 L1427.4,795.8 L1427.8,796.2 L1428.3,796.5 L1428.7,796.9 L1429.1,797.3 L1429.5,797.7 L1430.0,798.1 L1430.3,798.5 L1430.7,798.9 L1431.0,799.3 L1431.3,799.8 L1431.5,800.2 L1431.8,800.6 L1432.0,801.0 L1432.3,801.5 L1432.5,801.9 L1432.7,802.5 L1432.8,803.0 L1432.9,803.6 L1433.0,804.3 L1433.1,804.9 L1433.2,805.5 L1433.3,806.1 L1433.4,806.7 L1433.5,807.4 L1433.6,808.0 L1433.7,808.6 L1433.8,809.5 L1434.0,810.8 L1434.2,812.4 L1434.5,814.2 L1434.7,815.8 L1434.9,817.1 L1435.0,818.0 L1435.1,818.6 L1435.2,819.2 L1435.3,819.9 L1435.4,820.5 L1435.5,821.1 L1435.6,821.7 L1435.7,822.3 L1435.8,823.0 L1435.9,823.6 L1436.0,824.2 L1436.1,824.7 L1436.3,825.3 L1436.6,825.8 L1436.8,826.3 L1437.0,826.8 L1437.2,827.3 L1437.5,827.8 L1437.7,828.3 L1437.9,828.8 L1438.1,829.3 L1438.4,829.8 L1438.6,830.4 L1438.7,830.9 L1438.9,831.5 L1439.0,832.1 L1439.2,832.7 L1439.3,833.3 L1439.5,834.0 L1439.6,834.6 L1439.7,835.2 L1439.9,835.8 L1440.0,836.4 L1440.2,837.0 L1440.4,837.9 L1440.6,839.0 L1440.9,840.3 L1441.3,841.9 L1441.6,843.2 L1441.8,844.3 L1442.0,845.2 L1442.2,845.8 L1442.3,846.4 L1442.5,847.0 L1442.6,847.6 L1442.7,848.2 L1442.9,848.9 L1443.0,849.5 L1443.2,850.1 L1443.3,850.7 L1443.4,851.3 L1443.6,851.9 L1443.7,852.5 L1443.8,853.1 L1443.9,853.7 L1444.1,854.3 L1444.2,854.8 L1444.3,855.4 L1444.4,856.0 L1444.6,856.6 L1444.7,857.2 L1444.8,857.8 L1444.9,858.4 L1445.1,859.0 L1445.2,859.6 L1445.3,860.2 L1445.4,860.8 L1445.6,861.3 L1445.7,861.9 L1445.8,862.5 L1445.9,863.1 L1446.1,863.7 L1446.2,864.3 L1446.3,864.9 L1446.4,865.5 L1446.6,866.1 L1446.7,866.7 L1446.8,867.3 L1446.9,867.8 L1447.1,868.4 L1447.2,869.0 L1447.3,869.6 L1447.5,870.2 L1447.8,870.7 L1448.1,871.1 L1448.6,871.6 L1449.0,872.0 L1449.4,872.4 L1449.8,872.8 L1450.3,873.3 L1450.7,873.7 L1451.1,874.1 L1451.5,874.5 L1452.0,875.0 L1452.4,875.4 L1452.8,875.8 L1453.2,876.2 L1453.7,876.7 L1454.1,877.0 L1454.6,877.2 L1455.2,877.4 L1455.8,877.4 L1456.4,877.4 L1457.0,877.5 L1457.6,877.5 L1458.2,877.5 L1458.8,877.6 L1459.4,877.6 L1460.0,877.6 L1460.6,877.7 L1461.2,877.7 L1461.8,877.7 L1462.4,877.8 L1463.1,877.8 L1463.7,877.9 L1464.3,877.9 L1464.9,877.9 L1465.5,878.0 L1466.1,878.0 L1466.7,878.0 L1467.3,878.1 L1467.9,878.1 L1468.5,878.1 L1469.1,878.2 L1469.7,878.2 L1470.3,878.2 L1470.9,878.3 L1471.5,878.3 L1472.1,878.3 L1472.8,878.3 L1473.4,878.3 L1474.0,878.3 L1474.6,878.3 L1475.3,878.3 L1475.9,878.3 L1476.5,878.3 L1477.1,878.3 L1477.8,878.3 L1495.9,878.4 L1531.6,878.4 L1584.7,878.6 L1655.5,878.7 L1708.6,878.9 L1744.3,878.9 L1762.4,879.0 L1763.1,879.0 L1763.7,879.0 L1764.3,879.0 L1764.9,879.0 L1765.6,879.0 L1766.2,879.0 L1766.8,879.0 L1767.6,879.0 L1769.0,879.0" stroke="#E5838A" stroke-width="3.2" fill="none" stroke-linejoin="round" stroke-linecap="butt"/>
<path d="M1020.0,1028.1 L1021.4,1028.1 L1022.2,1028.1 L1022.8,1028.1 L1023.4,1028.1 L1024.1,1028.1 L1024.7,1028.1 L1025.3,1028.1 L1025.9,1028.1 L1026.6,1028.1 L1037.4,1028.1 L1058.5,1028.1 L1089.8,1028.1 L1131.3,1028.1 L1162.6,1028.1 L1183.7,1028.1 L1194.5,1028.1 L1195.2,1028.1 L1195.8,1028.1 L1196.4,1028.1 L1197.0,1028.1 L1197.7,1028.1 L1198.3,1028.1 L1198.9,1028.1 L1199.5,1028.1 L1200.2,1028.1 L1200.8,1028.0 L1201.4,1027.9 L1202.0,1027.8 L1202.6,1027.6 L1203.1,1027.4 L1203.7,1027.2 L1204.3,1027.0 L1204.9,1026.7 L1205.5,1026.5 L1206.1,1026.3 L1206.6,1026.1 L1207.2,1025.9 L1207.7,1025.6 L1208.0,1025.2 L1208.2,1024.7 L1208.3,1024.2 L1208.3,1023.6 L1208.4,1023.0 L1208.5,1022.5 L1208.5,1021.9 L1208.6,1021.3 L1208.7,1020.8 L1208.7,1020.2 L1208.8,1019.6 L1208.9,1019.1 L1208.9,1018.5 L1209.0,1017.9 L1209.1,1017.4 L1209.1,1016.8 L1209.2,1016.2 L1209.2,1015.6 L1209.3,1015.1 L1209.4,1014.5 L1209.4,1013.9 L1209.5,1013.4 L1209.6,1012.8 L1209.6,1012.2 L1209.7,1011.7 L1209.8,1011.1 L1209.8,1010.5 L1209.9,1010.0 L1210.0,1009.4 L1210.0,1008.8 L1210.1,1008.3 L1210.2,1007.7 L1210.2,1007.1 L1210.3,1006.5 L1210.3,1005.8 L1210.4,1005.2 L1210.4,1004.6 L1210.5,1004.0 L1210.5,1003.4 L1210.6,1002.7 L1210.6,1002.1 L1210.7,1001.5 L1210.7,1000.9 L1210.9,999.1 L1211.1,996.3 L1211.4,992.3 L1211.8,987.3 L1212.1,983.3 L1212.3,980.5 L1212.5,978.7 L1212.5,978.1 L1212.6,977.5 L1212.6,976.9 L1212.7,976.2 L1212.7,975.6 L1212.8,975.0 L1212.8,974.4 L1212.9,973.8 L1212.9,973.1 L1213.0,972.5 L1213.0,971.9 L1213.1,971.3 L1213.1,970.6 L1213.2,970.0 L1213.2,969.4 L1213.3,968.8 L1213.3,968.2 L1213.4,967.5 L1213.4,966.9 L1213.5,966.3 L1213.5,965.7 L1213.7,963.9 L1213.9,961.1 L1214.2,957.2 L1214.6,952.1 L1214.9,948.2 L1215.1,945.4 L1215.3,943.6 L1215.3,943.0 L1215.4,942.4 L1215.4,941.8 L1215.5,941.1 L1215.5,940.5 L1215.6,939.9 L1215.6,939.3 L1215.7,938.7 L1215.7,938.0 L1215.8,937.4 L1215.8,936.8 L1215.9,936.2 L1215.9,935.5 L1215.9,934.9 L1216.0,934.3 L1216.0,933.7 L1216.1,933.0 L1216.1,932.4 L1216.2,931.8 L1216.2,931.2 L1216.2,930.6 L1216.3,929.1 L1216.5,926.8 L1216.7,923.6 L1217.0,919.7 L1217.2,916.5 L1217.4,914.2 L1217.5,912.7 L1217.5,912.1 L1217.5,911.5 L1217.6,910.9 L1217.6,910.3 L1217.7,909.6 L1217.7,909.0 L1217.8,908.4 L1217.8,907.8 L1217.8,907.1 L1218.0,906.6 L1218.2,906.1 L1218.6,905.7 L1219.0,905.4 L1219.4,905.1 L1219.9,904.7 L1220.4,904.3 L1221.4,903.6 L1221.5,905.0 L1221.5,905.8 L1221.5,906.4 L1221.6,907.0 L1221.6,907.7 L1221.6,908.3 L1221.7,908.9 L1221.7,909.5 L1221.7,910.2 L1221.8,911.3 L1221.9,913.1 L1222.0,915.4 L1222.2,918.3 L1222.3,920.6 L1222.4,922.4 L1222.5,923.5 L1222.5,924.2 L1222.5,924.8 L1222.6,925.4 L1222.6,926.0 L1222.6,926.7 L1222.7,927.3 L1222.7,927.9 L1222.7,928.5 L1222.8,929.2 L1222.8,929.8 L1222.8,930.4 L1222.9,931.0 L1222.9,931.7 L1222.9,932.3 L1223.0,932.9 L1223.0,933.5 L1223.0,934.2 L1223.1,934.8 L1223.1,935.4 L1223.2,936.0 L1223.2,936.7 L1223.3,938.4 L1223.5,941.2 L1223.7,945.1 L1224.0,950.2 L1224.2,954.1 L1224.4,956.9 L1224.5,958.6 L1224.5,959.3 L1224.6,959.9 L1224.6,960.5 L1224.7,961.1 L1224.7,961.8 L1224.7,962.4 L1224.8,963.0 L1224.8,963.6 L1224.8,964.3 L1224.9,964.9 L1224.9,965.5 L1224.9,966.1 L1224.9,966.8 L1224.9,967.4 L1225.0,968.0 L1225.0,968.6 L1225.0,969.3 L1225.0,969.9 L1225.0,970.5 L1225.0,971.1 L1225.0,971.8 L1225.1,973.7 L1225.1,976.8 L1225.2,981.3 L1225.3,987.0 L1225.4,991.5 L1225.4,994.6 L1225.5,996.5 L1225.5,997.2 L1225.5,997.8 L1225.5,998.4 L1225.5,999.0 L1225.5,999.7 L1225.5,1000.3 L1225.6,1000.9 L1225.6,1001.7 L1225.6,1003.1 L1225.6,1001.7 L1225.7,1000.9 L1225.7,1000.3 L1225.7,999.7 L1225.7,999.0 L1225.8,998.4 L1225.8,997.8 L1225.8,997.2 L1225.8,996.5 L1225.9,994.3 L1226.0,990.4 L1226.2,984.9 L1226.5,977.8 L1226.7,972.3 L1226.8,968.4 L1226.9,966.2 L1226.9,965.5 L1226.9,964.9 L1226.9,964.3 L1227.0,963.7 L1227.0,963.0 L1227.0,962.4 L1227.0,961.8 L1227.1,961.0 L1227.1,959.6 L1227.3,960.9 L1227.4,961.6 L1227.4,962.2 L1227.5,962.8 L1227.6,963.4 L1227.7,963.9 L1227.7,964.5 L1227.8,965.1 L1227.9,965.7 L1228.0,966.3 L1228.0,966.8 L1228.1,967.4 L1228.2,968.0 L1228.3,968.6 L1228.3,969.1 L1228.4,969.7 L1228.5,970.3 L1228.6,970.9 L1228.6,971.5 L1228.7,972.0 L1228.8,972.6 L1228.9,973.2 L1228.9,973.8 L1229.0,974.4 L1229.1,974.9 L1229.2,975.5 L1229.3,976.1 L1229.5,976.7 L1229.6,977.3 L1229.8,977.8 L1230.0,978.4 L1230.2,979.0 L1230.3,979.6 L1230.5,980.2 L1230.7,980.8 L1230.9,981.3 L1231.0,981.9 L1231.2,982.5 L1231.3,983.1 L1231.4,983.7 L1231.5,984.3 L1231.6,985.0 L1231.7,985.6 L1231.8,986.2 L1231.9,986.8 L1232.0,987.4 L1232.0,988.1 L1232.1,988.7 L1232.2,989.3 L1232.4,990.4 L1232.6,991.9 L1232.9,993.9 L1233.2,996.3 L1233.5,998.3 L1233.7,999.8 L1233.9,1000.9 L1234.0,1001.5 L1234.1,1002.1 L1234.1,1002.8 L1234.2,1003.4 L1234.3,1004.0 L1234.4,1004.6 L1234.5,1005.2 L1234.6,1005.9 L1234.7,1006.5 L1234.8,1007.1 L1234.9,1007.7 L1235.0,1008.3 L1235.2,1008.9 L1235.3,1009.4 L1235.5,1010.0 L1235.6,1010.6 L1235.7,1011.2 L1235.9,1011.8 L1236.0,1012.4 L1236.2,1012.9 L1236.3,1013.5 L1236.5,1014.1 L1236.6,1014.7 L1236.8,1015.3 L1236.9,1015.9 L1237.1,1016.4 L1237.2,1017.0 L1237.4,1017.6 L1237.5,1018.2 L1237.6,1018.8 L1237.8,1019.4 L1237.9,1019.9 L1238.1,1020.5 L1238.3,1021.1 L1238.6,1021.6 L1238.9,1022.0 L1239.3,1022.4 L1239.7,1022.8 L1240.1,1023.2 L1240.5,1023.6 L1241.0,1024.1 L1241.4,1024.5 L1241.8,1024.9 L1242.2,1025.3 L1242.6,1025.7 L1243.0,1026.0 L1243.5,1026.2 L1244.1,1026.4 L1244.7,1026.4 L1245.2,1026.5 L1245.8,1026.6 L1246.4,1026.6 L1247.0,1026.7 L1247.6,1026.7 L1248.2,1026.8 L1248.7,1026.9 L1249.3,1026.9 L1249.9,1027.0 L1250.5,1027.0 L1251.1,1027.1 L1251.7,1027.1 L1252.2,1027.2 L1252.8,1027.3 L1253.4,1027.3 L1254.0,1027.4 L1254.6,1027.4 L1255.2,1027.5 L1255.7,1027.6 L1256.3,1027.6 L1256.9,1027.7 L1257.5,1027.7 L1258.1,1027.7 L1258.8,1027.7 L1259.4,1027.7 L1260.0,1027.7 L1260.6,1027.7 L1261.3,1027.7 L1261.9,1027.7 L1262.5,1027.7 L1263.1,1027.7 L1263.8,1027.7 L1295.2,1027.7 L1357.3,1027.8 L1450.2,1027.9 L1574.0,1027.9 L1666.9,1028.0 L1729.0,1028.1 L1760.4,1028.1 L1761.1,1028.1 L1761.7,1028.1 L1762.3,1028.1 L1762.9,1028.1 L1763.6,1028.1 L1764.2,1028.1 L1764.8,1028.1 L1765.6,1028.1 L1767.0,1028.1" stroke="#4673BF" stroke-width="3.2" fill="none" stroke-linejoin="round" stroke-linecap="butt"/>
<path d="M1021.0,1178.3 L1022.4,1178.3 L1023.2,1178.3 L1023.8,1178.3 L1024.4,1178.3 L1025.1,1178.3 L1025.7,1178.3 L1026.3,1178.3 L1026.9,1178.3 L1027.6,1178.3 L1038.9,1178.3 L1061.0,1178.3 L1093.8,1178.3 L1137.2,1178.3 L1170.0,1178.3 L1192.1,1178.3 L1203.4,1178.3 L1204.1,1178.3 L1204.7,1178.3 L1205.3,1178.3 L1205.9,1178.3 L1206.6,1178.3 L1207.2,1178.3 L1207.8,1178.3 L1208.4,1178.3 L1209.1,1178.3 L1209.6,1178.2 L1210.2,1178.0 L1210.6,1177.7 L1211.1,1177.3 L1211.5,1176.9 L1211.9,1176.5 L1212.3,1176.1 L1212.8,1175.8 L1213.2,1175.4 L1213.6,1175.0 L1214.1,1174.5 L1215.1,1173.6 L1215.9,1174.0 L1216.3,1174.3 L1216.7,1174.4 L1217.1,1174.7 L1217.9,1175.1 L1218.8,1174.4 L1219.4,1174.0 L1219.8,1173.7 L1220.2,1173.4 L1220.6,1173.1 L1221.0,1172.7 L1221.4,1172.4 L1221.8,1172.1 L1222.3,1171.8 L1222.7,1171.5 L1223.1,1171.2 L1223.5,1170.8 L1223.9,1170.5 L1224.3,1170.2 L1224.7,1169.9 L1225.3,1169.5 L1226.2,1168.8 L1227.1,1169.1 L1227.6,1169.3 L1228.0,1169.5 L1228.4,1169.6 L1228.8,1169.8 L1229.1,1170.0 L1229.4,1170.3 L1229.6,1170.6 L1229.8,1171.0 L1230.0,1171.4 L1230.1,1171.8 L1230.3,1172.2 L1230.4,1172.6 L1230.6,1173.0 L1230.7,1173.4 L1230.9,1173.8 L1231.1,1174.2 L1231.3,1174.6 L1231.6,1174.9 L1231.9,1175.2 L1232.4,1175.4 L1232.8,1175.7 L1233.2,1176.0 L1233.7,1176.2 L1234.1,1176.5 L1234.6,1176.7 L1235.0,1177.0 L1235.4,1177.3 L1235.8,1177.5 L1236.3,1177.7 L1236.9,1177.8 L1237.4,1177.9 L1238.1,1177.9 L1238.7,1177.9 L1239.3,1177.9 L1239.9,1177.9 L1240.6,1177.9 L1241.2,1177.9 L1241.8,1177.9 L1242.4,1177.9 L1243.1,1177.9 L1252.5,1177.9 L1270.9,1177.9 L1298.0,1178.0 L1334.1,1178.0 L1361.2,1178.1 L1379.6,1178.1 L1389.0,1178.1 L1389.7,1178.1 L1390.3,1178.1 L1390.9,1178.1 L1391.5,1178.1 L1392.2,1178.1 L1392.8,1178.1 L1393.4,1178.1 L1394.0,1178.1 L1394.7,1178.1 L1395.2,1177.9 L1395.6,1177.6 L1395.8,1177.2 L1396.0,1176.6 L1396.1,1176.0 L1396.3,1175.4 L1396.5,1174.8 L1396.6,1174.2 L1396.8,1173.6 L1396.9,1173.0 L1397.1,1172.4 L1397.2,1171.8 L1397.4,1171.2 L1397.6,1170.6 L1397.7,1170.0 L1397.9,1169.4 L1398.0,1168.8 L1398.1,1168.2 L1398.3,1167.6 L1398.4,1167.0 L1398.5,1166.5 L1398.6,1165.9 L1398.7,1165.3 L1398.8,1164.7 L1398.9,1164.1 L1399.0,1163.6 L1399.1,1163.0 L1399.2,1162.4 L1399.3,1161.8 L1399.4,1161.2 L1399.5,1160.6 L1399.7,1160.1 L1399.8,1159.5 L1399.9,1158.9 L1400.0,1158.3 L1400.1,1157.7 L1400.2,1157.1 L1400.3,1156.6 L1400.4,1156.0 L1400.5,1155.4 L1400.6,1154.8 L1400.7,1154.2 L1400.8,1153.7 L1400.9,1153.1 L1401.0,1152.5 L1401.1,1151.9 L1401.2,1151.3 L1401.2,1150.6 L1401.2,1150.0 L1401.3,1149.4 L1401.3,1148.8 L1401.3,1148.1 L1401.4,1147.5 L1401.4,1146.9 L1401.4,1146.3 L1401.5,1145.6 L1401.5,1144.8 L1401.6,1143.7 L1401.7,1142.5 L1401.7,1140.9 L1401.8,1139.7 L1401.9,1138.6 L1401.9,1137.8 L1402.0,1137.1 L1402.0,1136.5 L1402.0,1135.9 L1402.1,1135.3 L1402.1,1134.6 L1402.1,1134.0 L1402.2,1133.4 L1402.2,1132.8 L1402.2,1132.1 L1402.3,1131.5 L1402.3,1131.0 L1402.3,1130.4 L1402.3,1129.8 L1402.4,1129.3 L1402.4,1128.8 L1402.4,1128.2 L1402.4,1127.7 L1402.4,1127.2 L1402.4,1126.6 L1402.4,1126.1 L1402.5,1125.5 L1402.5,1125.0 L1402.5,1124.5 L1402.5,1123.9 L1402.5,1123.4 L1402.5,1122.8 L1402.5,1122.3 L1402.6,1121.8 L1402.6,1121.2 L1402.7,1120.8 L1403.0,1120.4 L1403.3,1120.2 L1403.8,1120.0 L1404.3,1119.9 L1404.8,1119.7 L1405.3,1119.6 L1405.8,1119.4 L1406.1,1119.2 L1406.3,1118.9 L1406.4,1118.4 L1406.2,1117.9 L1406.1,1117.4 L1406.0,1116.9 L1405.9,1116.4 L1405.9,1115.9 L1405.8,1115.4 L1405.7,1114.9 L1405.5,1114.4 L1405.5,1113.9 L1405.4,1113.3 L1405.4,1112.8 L1405.4,1112.3 L1405.5,1111.8 L1405.6,1111.2 L1405.6,1110.7 L1405.7,1110.1 L1405.8,1109.6 L1405.9,1109.0 L1405.9,1108.5 L1406.0,1108.0 L1406.1,1107.4 L1406.2,1106.9 L1406.2,1106.3 L1406.3,1105.8 L1406.4,1105.3 L1406.5,1104.7 L1406.5,1104.2 L1406.6,1103.7 L1406.7,1103.1 L1406.8,1102.6 L1407.1,1102.3 L1407.4,1102.0 L1407.7,1101.7 L1408.1,1101.5 L1408.5,1101.3 L1408.9,1101.1 L1409.2,1100.8 L1409.5,1100.5 L1409.7,1100.1 L1409.8,1099.6 L1409.9,1099.0 L1409.9,1098.4 L1409.9,1097.8 L1409.9,1097.2 L1410.0,1096.6 L1410.0,1096.0 L1410.0,1095.4 L1410.0,1094.8 L1410.1,1094.2 L1410.1,1093.6 L1410.1,1093.0 L1410.1,1092.4 L1410.2,1091.8 L1410.2,1091.2 L1410.2,1090.6 L1410.2,1090.0 L1410.3,1089.4 L1410.3,1088.8 L1410.3,1088.2 L1410.3,1087.6 L1410.4,1087.0 L1410.4,1086.4 L1410.4,1085.8 L1410.5,1085.3 L1410.5,1084.7 L1410.6,1084.1 L1410.6,1083.6 L1410.6,1083.0 L1410.7,1082.4 L1410.7,1081.9 L1410.8,1081.3 L1410.8,1080.7 L1410.9,1080.2 L1410.9,1079.6 L1411.0,1079.0 L1411.0,1078.5 L1411.1,1077.9 L1411.1,1077.3 L1411.1,1076.8 L1411.2,1076.1 L1411.3,1074.8" stroke="#52A77C" stroke-width="3.2" fill="none" stroke-linejoin="round" stroke-linecap="butt"/>
<path d="M1416.1,1075.8 L1416.4,1077.0 L1416.5,1077.7 L1416.7,1078.3 L1416.8,1078.8 L1416.9,1079.4 L1417.0,1080.0 L1417.2,1080.5 L1417.3,1081.1 L1417.4,1081.6 L1417.5,1082.2 L1417.7,1082.7 L1417.8,1083.3 L1417.9,1083.8 L1418.0,1084.4 L1418.2,1084.9 L1418.3,1085.5 L1418.4,1086.1 L1418.5,1086.6 L1418.7,1087.2 L1418.8,1087.7 L1418.9,1088.3 L1419.0,1088.8 L1419.1,1089.4 L1419.2,1089.9 L1419.3,1090.5 L1419.4,1091.1 L1419.4,1091.6 L1419.5,1092.2 L1419.6,1092.8 L1419.7,1093.3 L1419.7,1093.9 L1419.8,1094.4 L1419.9,1095.0 L1420.0,1095.6 L1420.0,1096.1 L1420.1,1096.7 L1420.2,1097.3 L1420.3,1097.8 L1420.3,1098.4 L1420.4,1098.9 L1420.5,1099.5 L1420.6,1100.1 L1420.6,1100.6 L1420.7,1101.2 L1420.8,1101.8 L1420.9,1102.3 L1420.9,1102.9 L1421.0,1103.4 L1421.1,1104.0 L1421.2,1104.6 L1421.2,1105.1 L1421.3,1105.7 L1421.4,1106.3 L1421.4,1106.8 L1421.5,1107.4 L1421.5,1107.9 L1421.6,1108.4 L1421.6,1109.0 L1421.6,1109.5 L1421.6,1110.1 L1421.6,1110.6 L1421.7,1111.1 L1421.7,1111.7 L1421.7,1112.2 L1421.7,1112.8 L1421.7,1113.3 L1421.8,1113.8 L1421.8,1114.4 L1421.8,1114.9 L1421.8,1115.5 L1421.9,1116.0 L1421.9,1116.5 L1421.9,1117.1 L1421.9,1117.6 L1421.9,1118.2 L1422.0,1118.7 L1422.0,1119.2 L1422.0,1119.8 L1422.0,1120.3 L1422.0,1120.9 L1422.1,1121.4 L1422.1,1121.9 L1422.2,1122.4 L1422.4,1122.9 L1422.6,1123.4 L1422.8,1123.9 L1422.9,1124.4 L1423.1,1124.9 L1423.3,1125.4 L1423.5,1125.9 L1423.7,1126.3 L1423.9,1126.8 L1424.1,1127.3 L1424.3,1127.8 L1424.4,1128.3 L1424.6,1128.8 L1424.8,1129.3 L1425.0,1129.8 L1425.1,1130.3 L1425.2,1130.9 L1425.2,1131.5 L1425.3,1132.1 L1425.4,1132.7 L1425.4,1133.3 L1425.5,1133.9 L1425.5,1134.5 L1425.6,1135.1 L1425.6,1135.7 L1425.7,1136.3 L1425.7,1136.9 L1425.8,1137.5 L1425.9,1138.1 L1425.9,1138.7 L1426.0,1139.3 L1426.0,1139.9 L1426.1,1140.5 L1426.1,1141.1 L1426.2,1141.7 L1426.3,1142.3 L1426.3,1142.9 L1426.4,1143.5 L1426.4,1144.1 L1426.5,1144.7 L1426.5,1145.3 L1426.6,1145.9 L1426.6,1146.5 L1426.7,1147.1 L1426.8,1147.7 L1426.8,1148.3 L1426.9,1148.9 L1426.9,1149.5 L1427.0,1150.0 L1427.0,1150.6 L1427.1,1151.2 L1427.2,1151.7 L1427.2,1152.3 L1427.3,1152.9 L1427.3,1153.4 L1427.4,1154.0 L1427.4,1154.6 L1427.5,1155.1 L1427.5,1155.7 L1427.6,1156.3 L1427.7,1156.8 L1427.7,1157.4 L1427.8,1158.0 L1427.8,1158.5 L1427.9,1159.1 L1427.9,1159.7 L1428.0,1160.2 L1428.1,1160.8 L1428.1,1161.4 L1428.2,1161.9 L1428.2,1162.5 L1428.3,1163.1 L1428.3,1163.6 L1428.4,1164.2 L1428.4,1164.8 L1428.5,1165.3 L1428.6,1165.9 L1428.6,1166.5 L1428.8,1167.0 L1429.0,1167.5 L1429.4,1167.9 L1429.8,1168.3 L1430.3,1168.7 L1430.8,1169.1 L1431.2,1169.5 L1431.7,1169.9 L1432.1,1170.3 L1432.6,1170.7 L1433.1,1171.1 L1433.5,1171.5 L1433.9,1171.9 L1434.3,1172.3 L1434.6,1172.6 L1434.8,1173.0 L1435.1,1173.3 L1435.3,1173.7 L1435.6,1174.0 L1435.8,1174.4 L1436.1,1174.7 L1436.3,1175.1 L1436.6,1175.4 L1436.8,1175.8 L1437.1,1176.1 L1437.5,1176.3 L1438.0,1176.5 L1438.5,1176.5 L1439.0,1176.7 L1439.5,1176.8 L1440.0,1176.9 L1440.5,1177.0 L1441.0,1177.0 L1441.5,1177.1 L1442.0,1177.2 L1442.5,1177.3 L1443.0,1177.4 L1443.5,1177.5 L1444.1,1177.5 L1444.8,1177.5 L1445.4,1177.5 L1446.0,1177.5 L1446.6,1177.5 L1447.3,1177.5 L1447.9,1177.5 L1448.5,1177.5 L1449.1,1177.5 L1449.8,1177.5 L1469.7,1177.5 L1509.0,1177.6 L1567.6,1177.7 L1645.6,1177.9 L1704.2,1178.0 L1743.5,1178.1 L1763.4,1178.1 L1764.1,1178.1 L1764.7,1178.1 L1765.3,1178.1 L1765.9,1178.1 L1766.6,1178.1 L1767.2,1178.1 L1767.8,1178.1 L1768.6,1178.1 L1770.0,1178.1" stroke="#52A77C" stroke-width="3.2" fill="none" stroke-linejoin="round" stroke-linecap="butt"/>
<line x1="1016.9" y1="1216.5" x2="1767.7" y2="1216.5" stroke="#000" stroke-width="3.3"/>
<line x1="1025.3" y1="1218.1" x2="1025.3" y2="1227.7" stroke="#000" stroke-width="3.5"/>
<line x1="1189.2" y1="1218.1" x2="1189.2" y2="1227.7" stroke="#000" stroke-width="3.5"/>
<line x1="1349.4" y1="1218.1" x2="1349.4" y2="1227.7" stroke="#000" stroke-width="3.5"/>
<line x1="1508.4" y1="1218.1" x2="1508.4" y2="1227.7" stroke="#000" stroke-width="3.5"/>
<line x1="1674.7" y1="1218.1" x2="1674.7" y2="1227.7" stroke="#000" stroke-width="3.5"/>
<text x="1012.34" y="1257.00" font-size="27.5">12</text>
<text x="1175.96" y="1257.00" font-size="27.5">13</text>
<text x="1335.97" y="1257.00" font-size="27.5">14</text>
<text x="1495.34" y="1257.00" font-size="27.5">15</text>
<text x="1660.76" y="1257.00" font-size="27.5">16</text>
<text x="1270.18" y="1299.00" font-size="27.5">retention time (min)</text>
<text x="0.75" y="1382.10" font-size="46">e</text>
<text x="304.83" y="1433.90" font-size="27.5">allo-Thr EIC:372.1150</text>
<text x="59.58" y="1479.50" font-size="27.5">(i)</text>
<text x="59.58" y="1670.00" font-size="27.5">(ii)</text>
<text x="59.58" y="1826.90" font-size="27.5">(iii)</text>
<path d="M62.5,1564.7 L63.9,1564.7 L64.7,1564.7 L65.3,1564.7 L65.9,1564.7 L66.6,1564.7 L67.2,1564.7 L67.8,1564.7 L68.4,1564.7 L69.1,1564.7 L81.7,1564.7 L106.4,1564.7 L143.2,1564.7 L191.9,1564.7 L228.7,1564.7 L253.4,1564.7 L266.0,1564.7 L266.7,1564.7 L267.3,1564.7 L267.9,1564.7 L268.5,1564.7 L269.2,1564.7 L269.8,1564.7 L270.4,1564.7 L271.0,1564.7 L271.7,1564.7 L272.2,1564.6 L272.5,1564.2 L272.8,1563.8 L272.9,1563.2 L273.0,1562.6 L273.1,1562.0 L273.2,1561.4 L273.3,1560.8 L273.4,1560.2 L273.5,1559.6 L273.6,1559.0 L273.7,1558.4 L273.8,1557.8 L273.9,1557.2 L274.0,1556.6 L274.1,1556.0 L274.2,1555.4 L274.3,1554.8 L274.4,1554.2 L274.5,1553.6 L274.6,1553.0 L274.7,1552.4 L274.8,1551.8 L274.9,1551.2 L275.0,1550.6 L275.1,1550.0 L275.2,1549.4 L275.2,1548.7 L275.3,1548.1 L275.3,1547.5 L275.4,1546.9 L275.5,1546.3 L275.5,1545.6 L275.6,1545.0 L275.6,1544.4 L275.7,1543.8 L275.7,1542.9 L275.8,1541.7 L276.0,1540.2 L276.1,1538.5 L276.3,1537.0 L276.4,1535.8 L276.4,1534.9 L276.5,1534.3 L276.5,1533.7 L276.6,1533.1 L276.6,1532.4 L276.7,1531.8 L276.8,1531.2 L276.8,1530.6 L276.9,1530.0 L276.9,1529.3 L277.0,1528.7 L277.0,1528.1 L277.1,1527.5 L277.1,1526.8 L277.2,1526.2 L277.2,1525.6 L277.3,1525.0 L277.3,1524.4 L277.4,1523.7 L277.4,1523.1 L277.5,1522.5 L277.5,1521.9 L277.6,1521.0 L277.7,1519.8 L277.8,1518.3 L278.0,1516.5 L278.1,1515.0 L278.2,1513.8 L278.3,1512.9 L278.3,1512.3 L278.4,1511.7 L278.4,1511.1 L278.5,1510.4 L278.5,1509.8 L278.6,1509.2 L278.6,1508.6 L278.7,1508.0 L278.7,1507.3 L278.8,1506.7 L278.8,1506.1 L278.9,1505.5 L278.9,1504.8 L279.0,1504.2 L279.0,1503.6 L279.1,1503.0 L279.2,1502.4 L279.2,1501.7 L279.3,1501.1 L279.3,1500.5 L279.4,1499.9 L279.5,1498.6 L279.7,1496.6 L279.9,1494.0 L280.2,1490.6 L280.4,1488.0 L280.6,1486.0 L280.7,1484.7 L280.8,1484.1 L280.8,1483.5 L280.9,1482.9 L280.9,1482.2 L281.0,1481.6 L281.1,1481.0 L281.1,1480.4 L281.2,1479.6 L281.3,1478.2 L281.5,1479.6 L281.6,1480.4 L281.7,1481.0 L281.8,1481.6 L281.9,1482.2 L282.0,1482.8 L282.1,1483.5 L282.2,1484.1 L282.3,1484.7 L282.4,1485.8 L282.7,1487.4 L283.0,1489.5 L283.4,1492.0 L283.7,1494.1 L284.0,1495.7 L284.1,1496.8 L284.2,1497.4 L284.3,1498.0 L284.4,1498.7 L284.5,1499.3 L284.6,1499.9 L284.7,1500.5 L284.8,1501.1 L284.9,1501.9 L285.1,1503.3 L285.2,1501.9 L285.2,1501.1 L285.2,1500.5 L285.3,1499.9 L285.3,1499.2 L285.3,1498.6 L285.4,1498.0 L285.4,1497.4 L285.4,1496.7 L285.5,1494.8 L285.7,1491.4 L285.9,1486.7 L286.2,1480.6 L286.4,1475.9 L286.6,1472.5 L286.7,1470.6 L286.7,1469.9 L286.7,1469.3 L286.8,1468.7 L286.8,1468.1 L286.8,1467.4 L286.9,1466.8 L286.9,1466.2 L286.9,1465.4 L287.0,1464.0 L287.1,1465.4 L287.2,1466.2 L287.2,1466.8 L287.3,1467.4 L287.3,1468.0 L287.4,1468.7 L287.4,1469.3 L287.5,1469.9 L287.5,1470.5 L287.6,1471.5 L287.7,1472.9 L287.9,1474.7 L288.0,1476.9 L288.2,1478.7 L288.3,1480.1 L288.4,1481.1 L288.4,1481.7 L288.5,1482.3 L288.5,1482.9 L288.6,1483.6 L288.6,1484.2 L288.7,1484.8 L288.7,1485.4 L288.8,1486.0 L288.8,1486.7 L288.9,1487.3 L288.9,1487.9 L289.0,1488.5 L289.0,1489.2 L289.0,1489.8 L289.1,1490.4 L289.1,1491.0 L289.1,1491.7 L289.2,1492.3 L289.2,1492.9 L289.2,1493.5 L289.3,1494.2 L289.3,1495.1 L289.4,1496.2 L289.5,1497.7 L289.5,1499.5 L289.6,1501.0 L289.7,1502.1 L289.7,1503.0 L289.8,1503.7 L289.8,1504.3 L289.8,1504.9 L289.9,1505.5 L289.9,1506.2 L289.9,1506.8 L290.0,1507.4 L290.0,1508.0 L290.0,1508.7 L290.1,1509.3 L290.3,1509.8 L290.5,1510.4 L290.8,1510.9 L291.0,1511.4 L291.3,1511.9 L291.6,1512.4 L291.8,1513.0 L292.1,1513.5 L292.4,1514.0 L292.6,1514.5 L292.9,1515.0 L293.1,1515.6 L293.3,1516.1 L293.4,1516.7 L293.5,1517.4 L293.5,1518.0 L293.6,1518.6 L293.6,1519.2 L293.7,1519.8 L293.8,1520.5 L293.8,1521.1 L293.9,1521.7 L294.0,1522.3 L294.1,1523.4 L294.2,1525.0 L294.4,1527.1 L294.7,1529.6 L294.9,1531.7 L295.0,1533.3 L295.1,1534.4 L295.2,1535.0 L295.3,1535.6 L295.3,1536.2 L295.4,1536.9 L295.5,1537.5 L295.5,1538.1 L295.6,1538.7 L295.6,1539.3 L295.7,1540.0 L295.8,1540.6 L295.9,1541.2 L296.0,1541.7 L296.1,1542.3 L296.3,1542.9 L296.4,1543.4 L296.5,1544.0 L296.7,1544.5 L296.8,1545.1 L296.9,1545.7 L297.1,1546.2 L297.2,1546.8 L297.3,1547.3 L297.5,1547.9 L297.6,1548.5 L297.7,1549.0 L297.8,1549.6 L298.0,1550.2 L298.1,1550.7 L298.2,1551.3 L298.4,1551.8 L298.5,1552.4 L298.6,1553.0 L298.8,1553.5 L298.9,1554.1 L299.0,1554.6 L299.2,1555.2 L299.3,1555.8 L299.5,1556.3 L299.7,1556.7 L300.0,1557.1 L300.4,1557.5 L300.7,1557.8 L301.1,1558.2 L301.5,1558.5 L301.8,1558.9 L302.2,1559.2 L302.5,1559.6 L302.9,1559.9 L303.2,1560.3 L303.6,1560.6 L304.0,1561.0 L304.3,1561.3 L304.7,1561.7 L305.1,1562.0 L305.5,1562.2 L306.1,1562.3 L306.6,1562.4 L307.2,1562.4 L307.8,1562.5 L308.4,1562.6 L308.9,1562.6 L309.5,1562.7 L310.1,1562.8 L310.7,1562.8 L311.2,1562.9 L311.8,1563.0 L312.4,1563.0 L313.0,1563.1 L313.5,1563.2 L314.1,1563.2 L314.7,1563.3 L315.3,1563.4 L315.8,1563.4 L316.4,1563.5 L317.0,1563.6 L317.6,1563.6 L318.1,1563.7 L318.7,1563.8 L319.3,1563.8 L319.9,1563.8 L320.6,1563.8 L321.2,1563.8 L321.8,1563.8 L322.4,1563.8 L323.1,1563.8 L323.7,1563.8 L324.3,1563.9 L324.9,1563.9 L325.6,1563.9 L327.7,1563.9 L331.2,1563.9 L336.2,1564.0 L342.8,1564.0 L347.8,1564.1 L351.3,1564.1 L353.4,1564.1 L354.1,1564.1 L354.7,1564.1 L355.3,1564.2 L355.9,1564.2 L356.6,1564.2 L357.2,1564.2 L357.8,1564.2 L358.4,1564.2 L359.1,1564.2 L359.7,1564.2 L360.2,1564.1 L360.8,1564.0 L361.2,1563.9 L361.8,1563.8 L362.2,1563.7 L362.8,1563.6 L363.2,1563.4 L363.8,1563.3 L364.2,1563.2 L364.9,1563.1 L366.0,1562.8 L367.1,1563.1 L367.8,1563.2 L368.2,1563.4 L368.8,1563.5 L369.2,1563.6 L369.8,1563.7 L370.2,1563.9 L370.8,1564.0 L371.2,1564.1 L371.8,1564.2 L372.3,1564.3 L372.9,1564.3 L373.6,1564.3 L374.2,1564.3 L374.8,1564.3 L375.4,1564.3 L376.1,1564.3 L376.7,1564.3 L377.3,1564.3 L377.9,1564.3 L378.6,1564.3 L398.0,1564.3 L436.2,1564.3 L493.1,1564.4 L568.9,1564.4 L625.8,1564.5 L664.0,1564.5 L683.4,1564.5 L684.1,1564.5 L684.7,1564.5 L685.3,1564.5 L685.9,1564.5 L686.6,1564.5 L687.2,1564.5 L687.8,1564.5 L688.6,1564.5 L690.0,1564.5" stroke="#E5838A" stroke-width="3.2" fill="none" stroke-linejoin="round" stroke-linecap="butt"/>
<path d="M693.0,1564.5 L809.0,1564.5" stroke="#E5838A" stroke-width="3.2" fill="none" stroke-linejoin="round" stroke-linecap="butt"/>
<path d="M64.0,1714.0 L65.4,1714.0 L66.2,1714.0 L66.8,1714.0 L67.4,1714.0 L68.1,1714.0 L68.7,1714.0 L69.3,1714.0 L69.9,1714.0 L70.6,1714.0 L79.1,1714.0 L95.7,1714.0 L120.1,1714.0 L152.6,1714.0 L177.0,1714.0 L193.6,1714.0 L202.1,1714.0 L202.8,1714.0 L203.4,1714.0 L204.0,1714.0 L204.6,1714.0 L205.3,1714.0 L205.9,1714.0 L206.5,1714.0 L207.1,1714.0 L207.8,1714.0 L208.3,1713.9 L208.7,1713.8 L209.1,1713.6 L209.3,1713.3 L209.5,1713.0 L209.8,1712.7 L210.1,1712.3 L210.6,1711.7 L211.4,1712.5 L211.8,1713.0 L212.1,1713.3 L212.5,1713.8 L213.3,1714.6 L213.9,1713.7 L214.3,1713.2 L214.6,1712.9 L214.8,1712.5 L215.1,1712.1 L215.4,1711.7 L215.7,1711.3 L216.0,1710.9 L216.3,1710.5 L216.5,1710.1 L216.8,1709.8 L217.1,1709.4 L217.4,1709.0 L217.7,1708.7 L218.2,1708.6 L218.7,1708.5 L219.2,1708.6 L219.8,1708.7 L220.4,1708.8 L221.0,1708.9 L221.5,1709.0 L222.0,1708.9 L222.3,1708.6 L222.5,1708.2 L222.6,1707.6 L222.6,1707.1 L222.7,1706.5 L222.8,1705.9 L222.8,1705.3 L222.9,1704.7 L223.0,1704.2 L223.0,1703.6 L223.1,1703.0 L223.2,1702.4 L223.2,1701.8 L223.3,1701.2 L223.4,1700.7 L223.5,1700.1 L223.5,1699.5 L223.6,1698.9 L223.7,1698.3 L223.7,1697.7 L223.8,1697.2 L223.9,1696.6 L223.9,1696.0 L224.0,1695.4 L224.1,1694.8 L224.1,1694.3 L224.2,1693.7 L224.3,1693.1 L224.3,1692.5 L224.4,1691.9 L224.4,1691.2 L224.4,1690.6 L224.5,1690.0 L224.5,1689.4 L224.5,1688.7 L224.6,1688.1 L224.6,1687.5 L224.7,1686.9 L224.7,1686.2 L224.8,1684.7 L225.0,1682.2 L225.2,1678.7 L225.4,1674.3 L225.6,1670.8 L225.8,1668.3 L225.9,1666.8 L225.9,1666.1 L226.0,1665.5 L226.0,1664.9 L226.1,1664.3 L226.1,1663.6 L226.1,1663.0 L226.2,1662.4 L226.2,1661.8 L226.2,1661.1 L226.3,1660.5 L226.3,1659.9 L226.4,1659.3 L226.4,1658.6 L226.5,1658.0 L226.5,1657.4 L226.5,1656.8 L226.6,1656.1 L226.6,1655.5 L226.7,1654.9 L226.7,1654.3 L226.8,1653.7 L226.9,1652.5 L227.0,1650.8 L227.1,1648.5 L227.4,1645.8 L227.5,1643.5 L227.6,1641.8 L227.7,1640.6 L227.8,1640.0 L227.8,1639.4 L227.9,1638.8 L227.9,1638.2 L228.0,1637.5 L228.0,1636.9 L228.0,1636.3 L228.1,1635.7 L228.1,1635.0 L228.2,1634.4 L228.3,1633.8 L228.3,1633.2 L228.4,1632.6 L228.5,1631.9 L228.6,1631.3 L228.7,1630.7 L228.8,1630.1 L228.9,1629.5 L229.0,1628.9 L229.1,1628.2 L229.2,1627.6 L229.4,1626.3 L229.8,1624.2 L230.2,1621.3 L230.8,1617.8 L231.2,1614.9 L231.6,1612.8 L231.8,1611.5 L231.9,1610.9 L232.0,1610.2 L232.1,1609.6 L232.2,1609.0 L232.3,1608.4 L232.4,1607.8 L232.5,1607.2 L232.6,1606.4 L232.8,1605.0 L232.9,1606.4 L232.9,1607.2 L232.9,1607.8 L233.0,1608.4 L233.0,1609.1 L233.0,1609.7 L233.0,1610.3 L233.1,1610.9 L233.1,1611.6 L233.2,1612.9 L233.2,1615.0 L233.4,1617.8 L233.5,1621.3 L233.7,1624.1 L233.7,1626.2 L233.8,1627.5 L233.8,1628.2 L233.9,1628.8 L233.9,1629.4 L233.9,1630.0 L233.9,1630.7 L234.0,1631.3 L234.0,1631.9 L234.0,1632.5 L234.1,1633.2 L234.1,1633.8 L234.1,1634.4 L234.2,1635.0 L234.2,1635.7 L234.2,1636.3 L234.3,1636.9 L234.3,1637.5 L234.4,1638.2 L234.4,1638.8 L234.5,1639.4 L234.5,1640.0 L234.5,1640.6 L234.7,1642.6 L234.9,1646.0 L235.2,1650.6 L235.6,1656.7 L235.9,1661.3 L236.1,1664.7 L236.3,1666.7 L236.3,1667.3 L236.3,1667.9 L236.4,1668.5 L236.4,1669.1 L236.5,1669.8 L236.5,1670.4 L236.6,1671.0 L236.6,1671.6 L236.6,1672.3 L236.7,1672.9 L236.7,1673.5 L236.8,1674.1 L236.8,1674.8 L236.9,1675.4 L237.0,1676.0 L237.0,1676.6 L237.1,1677.2 L237.1,1677.9 L237.2,1678.5 L237.3,1679.1 L237.3,1679.7 L237.4,1681.0 L237.6,1682.8 L237.9,1685.3 L238.1,1688.5 L238.4,1691.0 L238.6,1692.8 L238.7,1694.1 L238.7,1694.7 L238.8,1695.3 L238.9,1695.9 L238.9,1696.6 L239.0,1697.2 L239.0,1697.8 L239.1,1698.4 L239.2,1699.0 L239.2,1699.7 L239.4,1700.1 L239.7,1700.4 L240.2,1700.6 L240.7,1700.6 L241.3,1700.6 L241.9,1700.6 L242.5,1700.6 L243.0,1700.6 L243.5,1700.8 L243.8,1701.1 L244.1,1701.5 L244.2,1702.1 L244.3,1702.7 L244.4,1703.4 L244.6,1704.0 L244.7,1704.6 L244.8,1705.2 L244.9,1705.8 L245.0,1706.4 L245.1,1707.0 L245.3,1707.6 L245.4,1708.3 L245.5,1708.9 L245.6,1709.5 L245.8,1710.0 L246.1,1710.5 L246.4,1710.9 L246.8,1711.2 L247.1,1711.5 L247.5,1711.9 L247.9,1712.2 L248.3,1712.5 L248.7,1712.8 L249.1,1713.2 L249.5,1713.6 L250.4,1714.3 L251.2,1713.4 L251.7,1712.9 L252.1,1712.5 L252.4,1712.1 L252.8,1711.7 L253.2,1711.3 L253.5,1710.8 L253.9,1710.4 L254.3,1710.0 L254.6,1709.6 L255.0,1709.2 L255.5,1708.7 L256.3,1707.8 L256.6,1708.9 L256.8,1709.5 L256.9,1710.0 L257.1,1710.5 L257.2,1711.0 L257.4,1711.5 L257.5,1711.9 L257.7,1712.4 L257.8,1712.9 L258.0,1713.4 L258.1,1713.9 L258.3,1714.5 L258.6,1715.6 L259.2,1714.7 L259.6,1714.2 L259.8,1713.7 L260.2,1713.2 L260.8,1712.3 L261.5,1712.7 L261.9,1712.9 L262.3,1713.0 L262.6,1713.2 L262.9,1713.4 L263.2,1713.5 L263.6,1713.6 L263.9,1713.7 L264.2,1713.7 L264.5,1713.8 L264.9,1713.8 L265.2,1713.9 L265.5,1713.9 L265.9,1714.0 L266.4,1714.0 L266.9,1714.0 L267.6,1714.0 L268.2,1714.0 L268.8,1714.0 L269.4,1714.0 L270.1,1714.0 L270.7,1714.0 L271.3,1714.0 L271.9,1714.0 L272.6,1714.0 L306.0,1714.0 L372.3,1714.0 L471.5,1714.0 L603.5,1714.0 L702.7,1714.0 L769.0,1714.0 L802.4,1714.0 L803.1,1714.0 L803.7,1714.0 L804.3,1714.0 L804.9,1714.0 L805.6,1714.0 L806.2,1714.0 L806.8,1714.0 L807.6,1714.0 L809.0,1714.0" stroke="#4673BF" stroke-width="3.2" fill="none" stroke-linejoin="round" stroke-linecap="butt"/>
<path d="M66.0,1863.7 L67.4,1863.7 L68.2,1863.7 L68.8,1863.7 L69.4,1863.7 L70.1,1863.7 L70.7,1863.7 L71.3,1863.7 L71.9,1863.7 L72.6,1863.7 L85.3,1863.7 L110.2,1863.7 L147.2,1863.7 L196.4,1863.7 L233.4,1863.7 L258.3,1863.7 L271.0,1863.7 L271.7,1863.7 L272.3,1863.7 L272.9,1863.7 L273.5,1863.7 L274.2,1863.7 L274.8,1863.7 L275.4,1863.7 L276.0,1863.7 L276.7,1863.7 L277.2,1863.6 L277.8,1863.4 L278.3,1863.1 L278.8,1862.8 L279.2,1862.4 L279.7,1862.0 L280.1,1861.6 L280.6,1861.3 L281.0,1860.8 L281.2,1860.3 L281.4,1859.8 L281.4,1859.1 L281.5,1858.5 L281.5,1857.9 L281.6,1857.3 L281.6,1856.7 L281.7,1856.0 L281.7,1855.4 L281.8,1854.8 L281.8,1854.2 L281.9,1852.9 L282.1,1851.0 L282.3,1848.4 L282.6,1845.2 L282.8,1842.6 L283.0,1840.7 L283.1,1839.4 L283.1,1838.8 L283.2,1838.2 L283.2,1837.6 L283.3,1836.9 L283.3,1836.3 L283.4,1835.7 L283.4,1835.1 L283.5,1834.5 L283.5,1833.8 L283.6,1833.2 L283.6,1832.6 L283.6,1832.0 L283.7,1831.3 L283.7,1830.7 L283.7,1830.1 L283.7,1829.5 L283.7,1828.8 L283.8,1828.2 L283.8,1827.6 L283.8,1827.0 L283.8,1826.3 L283.9,1824.9 L284.0,1822.7 L284.1,1819.7 L284.2,1816.0 L284.3,1813.0 L284.4,1810.8 L284.5,1809.4 L284.5,1808.7 L284.5,1808.1 L284.5,1807.5 L284.6,1806.9 L284.6,1806.2 L284.6,1805.6 L284.6,1805.0 L284.6,1804.4 L284.7,1803.7 L284.7,1803.1 L284.7,1802.5 L284.7,1801.9 L284.7,1801.2 L284.8,1800.6 L284.8,1800.0 L284.8,1799.4 L284.8,1798.7 L284.8,1798.1 L284.8,1797.5 L284.9,1796.9 L284.9,1796.2 L284.9,1794.8 L285.0,1792.6 L285.0,1789.6 L285.2,1785.9 L285.2,1782.9 L285.3,1780.7 L285.3,1779.3 L285.3,1778.6 L285.4,1778.0 L285.4,1777.4 L285.4,1776.8 L285.4,1776.1 L285.4,1775.5 L285.4,1774.9 L285.5,1774.3 L285.5,1773.6 L285.5,1773.0 L285.5,1772.4 L285.6,1771.8 L285.6,1771.1 L285.7,1770.5 L285.7,1769.9 L285.8,1769.3 L285.8,1768.7 L285.9,1768.0 L285.9,1767.4 L286.0,1766.8 L286.0,1766.2 L286.1,1765.2 L286.2,1763.9 L286.4,1762.4 L286.5,1760.4 L286.7,1758.9 L286.8,1757.6 L286.9,1756.6 L286.9,1756.0 L287.0,1755.4 L287.0,1754.8 L287.1,1754.1 L287.1,1753.5 L287.2,1752.9 L287.2,1752.3 L287.3,1751.7 L287.3,1751.0 L287.4,1750.4 L287.5,1749.8 L287.5,1749.3 L287.6,1748.7 L287.7,1748.1 L287.8,1747.6 L287.9,1747.0 L288.0,1746.5 L288.1,1745.9 L288.2,1745.3 L288.3,1744.8 L288.4,1744.2 L288.5,1743.7 L288.6,1743.1 L288.7,1742.5 L288.8,1742.0 L288.9,1741.4 L289.0,1740.9 L289.1,1740.3 L289.2,1739.8 L289.3,1739.2 L289.4,1738.6 L289.5,1738.1 L289.6,1737.5 L289.7,1737.0 L289.8,1736.4 L289.9,1735.8 L290.0,1735.3 L290.1,1734.7 L290.2,1734.2 L290.3,1733.5 L290.5,1732.2 L290.9,1733.5 L291.1,1734.2 L291.2,1734.7 L291.4,1735.3 L291.5,1735.8 L291.7,1736.4 L291.8,1736.9 L292.0,1737.5 L292.1,1738.1 L292.3,1738.6 L292.5,1739.2 L292.6,1739.7 L292.8,1740.3 L292.9,1740.8 L293.1,1741.4 L293.2,1741.9 L293.4,1742.5 L293.6,1743.1 L293.7,1743.6 L293.9,1744.2 L294.0,1744.7 L294.2,1745.3 L294.4,1745.8 L294.5,1746.4 L294.7,1747.0 L294.8,1747.5 L294.9,1748.1 L295.0,1748.7 L295.0,1749.4 L295.0,1750.0 L295.1,1750.6 L295.1,1751.2 L295.1,1751.9 L295.2,1752.5 L295.2,1753.1 L295.3,1753.7 L295.3,1754.4 L295.4,1755.4 L295.5,1757.0 L295.6,1759.0 L295.7,1761.5 L295.8,1763.5 L295.9,1765.1 L296.0,1766.1 L296.0,1766.8 L296.1,1767.4 L296.1,1768.0 L296.2,1768.6 L296.2,1769.3 L296.2,1769.9 L296.3,1770.5 L296.3,1771.1 L296.3,1771.8 L296.4,1772.4 L296.4,1773.0 L296.4,1773.6 L296.5,1774.3 L296.5,1774.9 L296.5,1775.5 L296.6,1776.1 L296.6,1776.8 L296.6,1777.4 L296.7,1778.0 L296.7,1778.6 L296.7,1779.3 L296.8,1780.7 L296.9,1782.9 L297.1,1785.9 L297.2,1789.6 L297.4,1792.6 L297.5,1794.8 L297.6,1796.2 L297.6,1796.9 L297.6,1797.5 L297.7,1798.1 L297.7,1798.7 L297.7,1799.4 L297.8,1800.0 L297.8,1800.6 L297.8,1801.2 L297.9,1801.9 L297.9,1802.5 L297.9,1803.1 L298.0,1803.7 L298.0,1804.4 L298.1,1805.0 L298.1,1805.6 L298.2,1806.2 L298.2,1806.8 L298.3,1807.5 L298.3,1808.1 L298.4,1808.7 L298.4,1809.3 L298.5,1810.5 L298.7,1812.2 L298.9,1814.5 L299.1,1817.4 L299.3,1819.7 L299.5,1821.4 L299.6,1822.6 L299.6,1823.2 L299.7,1823.8 L299.7,1824.4 L299.8,1825.1 L299.8,1825.7 L299.9,1826.3 L299.9,1826.9 L300.0,1827.5 L300.0,1828.2 L300.1,1828.8 L300.1,1829.4 L300.2,1830.0 L300.3,1830.7 L300.4,1831.3 L300.4,1831.9 L300.5,1832.5 L300.6,1833.1 L300.7,1833.8 L300.8,1834.4 L300.8,1835.0 L300.9,1835.6 L301.0,1836.7 L301.2,1838.2 L301.5,1840.3 L301.8,1842.7 L302.1,1844.8 L302.3,1846.3 L302.4,1847.4 L302.5,1848.0 L302.5,1848.6 L302.6,1849.2 L302.7,1849.9 L302.8,1850.5 L302.9,1851.1 L302.9,1851.7 L303.0,1852.3 L303.1,1853.0 L303.2,1853.5 L303.5,1854.0 L303.8,1854.5 L304.1,1854.9 L304.5,1855.2 L304.9,1855.6 L305.3,1856.0 L305.6,1856.4 L306.0,1856.8 L306.4,1857.1 L306.8,1857.5 L307.1,1857.9 L307.5,1858.3 L307.9,1858.7 L308.3,1859.0 L308.6,1859.4 L309.0,1859.7 L309.5,1860.0 L309.9,1860.2 L310.4,1860.3 L310.8,1860.5 L311.3,1860.6 L311.8,1860.8 L312.2,1860.9 L312.7,1861.0 L313.2,1861.2 L313.7,1861.3 L314.1,1861.4 L314.6,1861.6 L315.1,1861.7 L315.5,1861.9 L316.0,1862.0 L316.5,1862.1 L317.0,1862.2 L317.5,1862.2 L318.1,1862.2 L318.7,1862.3 L319.2,1862.3 L319.8,1862.3 L320.4,1862.3 L320.9,1862.3 L321.5,1862.3 L322.0,1862.4 L322.6,1862.4 L323.2,1862.4 L323.7,1862.4 L324.3,1862.4 L324.9,1862.4 L325.4,1862.5 L326.0,1862.5 L326.5,1862.5 L327.1,1862.5 L327.7,1862.5 L328.2,1862.5 L328.8,1862.6 L329.4,1862.6 L329.9,1862.6 L330.5,1862.6 L331.1,1862.6 L331.8,1862.6 L332.4,1862.6 L333.0,1862.6 L333.6,1862.6 L334.3,1862.6 L334.9,1862.6 L335.5,1862.6 L336.1,1862.6 L336.8,1862.6 L338.3,1862.7 L340.7,1862.7 L344.0,1862.7 L348.2,1862.7 L351.5,1862.7 L353.9,1862.7 L355.4,1862.8 L356.1,1862.8 L356.7,1862.8 L357.3,1862.8 L357.9,1862.8 L358.6,1862.8 L359.2,1862.8 L359.8,1862.8 L360.4,1862.8 L361.1,1862.8 L361.7,1862.8 L362.2,1862.7 L362.8,1862.6 L363.2,1862.5 L363.8,1862.5 L364.2,1862.3 L364.8,1862.2 L365.2,1862.1 L365.8,1862.0 L366.2,1862.0 L366.9,1861.8 L368.0,1861.6 L369.1,1861.8 L369.8,1862.0 L370.2,1862.0 L370.8,1862.1 L371.2,1862.2 L371.8,1862.3 L372.2,1862.5 L372.8,1862.5 L373.2,1862.6 L373.8,1862.7 L374.3,1862.8 L374.9,1862.8 L375.6,1862.8 L376.2,1862.8 L376.8,1862.8 L377.4,1862.8 L378.1,1862.8 L378.7,1862.8 L379.3,1862.8 L379.9,1862.8 L380.6,1862.8 L407.5,1862.8 L460.8,1862.8 L540.3,1862.8 L646.2,1862.8 L725.8,1862.8 L779.0,1862.8 L805.9,1862.8 L806.6,1862.8 L807.2,1862.8 L807.8,1862.8 L808.4,1862.8 L809.1,1862.8 L809.7,1862.8 L810.3,1862.8 L811.1,1862.8 L812.5,1862.8" stroke="#52A77C" stroke-width="3.2" fill="none" stroke-linejoin="round" stroke-linecap="butt"/>
<line x1="59.9" y1="1894.3" x2="814.6" y2="1894.3" stroke="#000" stroke-width="3.3"/>
<line x1="158.5" y1="1898.6" x2="158.5" y2="1910.8" stroke="#000" stroke-width="3.5"/>
<line x1="325.6" y1="1896.2" x2="325.6" y2="1909.0" stroke="#000" stroke-width="3.5"/>
<line x1="487.3" y1="1896.2" x2="487.3" y2="1909.0" stroke="#000" stroke-width="3.5"/>
<line x1="651.4" y1="1896.2" x2="651.4" y2="1909.0" stroke="#000" stroke-width="3.5"/>
<text x="149.95" y="1941.30" font-size="27.5">8</text>
<text x="314.05" y="1941.30" font-size="27.5">9</text>
<text x="469.39" y="1941.30" font-size="27.5">10</text>
<text x="633.23" y="1941.30" font-size="27.5">11</text>
<text x="315.38" y="1985.30" font-size="27.5">retention time (min)</text>
<text x="913.87" y="1382.40" font-size="46">f</text>
<text x="1292.43" y="1435.90" font-size="27.5">Arg EIC:427.1684</text>
<text x="1018.38" y="1477.80" font-size="27.5">(i)</text>
<text x="1018.38" y="1668.70" font-size="27.5">(ii)</text>
<text x="1018.38" y="1824.80" font-size="27.5">(iii)</text>
<path d="M1019.0,1560.2 L1020.4,1560.2 L1021.2,1560.2 L1021.8,1560.2 L1022.4,1560.2 L1023.1,1560.2 L1023.7,1560.2 L1024.3,1560.2 L1024.9,1560.2 L1025.6,1560.2 L1048.4,1560.2 L1093.5,1560.2 L1160.8,1560.2 L1250.2,1560.2 L1317.5,1560.2 L1362.6,1560.2 L1385.4,1560.2 L1386.1,1560.2 L1386.7,1560.2 L1387.3,1560.2 L1387.9,1560.2 L1388.6,1560.2 L1389.2,1560.2 L1389.8,1560.2 L1390.4,1560.2 L1391.1,1560.2 L1391.6,1560.1 L1392.1,1559.9 L1392.4,1559.7 L1392.7,1559.3 L1393.0,1558.9 L1393.3,1558.6 L1393.6,1558.2 L1393.8,1557.9 L1394.1,1557.5 L1394.4,1557.2 L1394.7,1556.8 L1395.0,1556.4 L1395.2,1556.0 L1395.5,1555.5 L1395.7,1555.0 L1395.9,1554.4 L1396.1,1553.8 L1396.4,1553.3 L1396.6,1552.7 L1396.8,1552.1 L1397.0,1551.5 L1397.2,1550.9 L1397.4,1550.3 L1397.6,1549.7 L1397.8,1549.1 L1398.1,1548.6 L1398.3,1548.0 L1398.5,1547.4 L1398.7,1546.8 L1398.9,1546.2 L1399.1,1545.6 L1399.3,1545.0 L1399.5,1544.4 L1399.8,1543.9 L1400.0,1543.3 L1400.2,1542.7 L1400.4,1542.1 L1400.5,1541.5 L1400.6,1540.9 L1400.6,1540.2 L1400.7,1539.6 L1400.7,1539.0 L1400.8,1538.4 L1400.9,1537.8 L1400.9,1537.1 L1401.0,1536.5 L1401.0,1535.9 L1401.1,1535.3 L1401.2,1534.1 L1401.3,1532.5 L1401.5,1530.4 L1401.7,1527.8 L1401.9,1525.7 L1402.0,1524.1 L1402.1,1522.9 L1402.2,1522.3 L1402.2,1521.7 L1402.3,1521.1 L1402.3,1520.4 L1402.4,1519.8 L1402.5,1519.2 L1402.5,1518.6 L1402.6,1518.0 L1402.6,1517.3 L1402.7,1516.7 L1402.8,1516.1 L1402.8,1515.5 L1402.9,1514.9 L1403.0,1514.2 L1403.1,1513.6 L1403.2,1513.0 L1403.3,1512.4 L1403.4,1511.8 L1403.5,1511.1 L1403.6,1510.5 L1403.7,1509.9 L1403.8,1509.0 L1404.0,1507.7 L1404.3,1506.1 L1404.5,1504.2 L1404.8,1502.6 L1405.0,1501.3 L1405.1,1500.4 L1405.2,1499.8 L1405.3,1499.2 L1405.4,1498.5 L1405.5,1497.9 L1405.6,1497.3 L1405.7,1496.7 L1405.8,1496.1 L1405.9,1495.4 L1406.0,1494.8 L1406.1,1494.2 L1406.2,1493.6 L1406.3,1493.0 L1406.4,1492.4 L1406.5,1491.7 L1406.6,1491.1 L1406.7,1490.5 L1406.8,1489.9 L1407.0,1489.3 L1407.1,1488.7 L1407.2,1488.1 L1407.3,1487.4 L1407.5,1486.4 L1407.8,1484.9 L1408.1,1483.0 L1408.6,1480.7 L1408.9,1478.8 L1409.2,1477.3 L1409.4,1476.3 L1409.5,1475.6 L1409.6,1475.0 L1409.7,1474.4 L1409.9,1473.8 L1410.0,1473.2 L1410.1,1472.6 L1410.2,1472.0 L1410.3,1471.2 L1410.6,1469.8 L1410.9,1471.2 L1411.0,1471.9 L1411.1,1472.6 L1411.2,1473.2 L1411.4,1473.8 L1411.5,1474.4 L1411.6,1475.0 L1411.7,1475.6 L1411.8,1476.2 L1412.0,1477.1 L1412.2,1478.2 L1412.4,1479.6 L1412.8,1481.2 L1413.0,1482.6 L1413.2,1483.7 L1413.4,1484.6 L1413.5,1485.2 L1413.6,1485.8 L1413.7,1486.4 L1413.8,1487.0 L1414.0,1487.6 L1414.1,1488.2 L1414.2,1488.9 L1414.3,1489.5 L1414.4,1490.1 L1414.5,1490.7 L1414.7,1491.3 L1414.8,1491.9 L1414.9,1492.5 L1415.0,1493.2 L1415.1,1493.8 L1415.2,1494.4 L1415.3,1495.0 L1415.4,1495.6 L1415.5,1496.2 L1415.6,1496.9 L1415.7,1497.5 L1415.9,1498.4 L1416.1,1499.7 L1416.4,1501.3 L1416.7,1503.3 L1417.0,1504.9 L1417.2,1506.2 L1417.4,1507.1 L1417.5,1507.7 L1417.6,1508.4 L1417.7,1509.0 L1417.8,1509.6 L1417.9,1510.2 L1418.0,1510.8 L1418.1,1511.4 L1418.2,1512.1 L1418.3,1512.7 L1418.4,1513.3 L1418.5,1513.9 L1418.6,1514.5 L1418.7,1515.1 L1418.8,1515.8 L1418.9,1516.4 L1419.0,1517.0 L1419.1,1517.6 L1419.2,1518.2 L1419.3,1518.9 L1419.4,1519.5 L1419.5,1520.1 L1419.6,1521.0 L1419.8,1522.3 L1420.1,1523.9 L1420.3,1525.9 L1420.6,1527.5 L1420.8,1528.8 L1420.9,1529.7 L1421.0,1530.3 L1421.1,1530.9 L1421.2,1531.6 L1421.3,1532.2 L1421.4,1532.8 L1421.5,1533.4 L1421.6,1534.0 L1421.7,1534.7 L1421.8,1535.3 L1421.9,1535.9 L1422.0,1536.5 L1422.2,1537.1 L1422.4,1537.7 L1422.6,1538.3 L1422.7,1538.8 L1422.9,1539.4 L1423.1,1540.0 L1423.3,1540.6 L1423.5,1541.2 L1423.7,1541.8 L1423.9,1542.4 L1424.1,1543.0 L1424.2,1543.5 L1424.4,1544.1 L1424.6,1544.7 L1424.8,1545.3 L1425.0,1545.9 L1425.2,1546.5 L1425.4,1547.1 L1425.6,1547.7 L1425.7,1548.2 L1425.9,1548.8 L1426.1,1549.4 L1426.3,1550.0 L1426.6,1550.5 L1426.8,1550.9 L1427.1,1551.4 L1427.4,1551.8 L1427.7,1552.2 L1427.9,1552.6 L1428.2,1553.1 L1428.5,1553.5 L1428.8,1553.9 L1429.1,1554.3 L1429.4,1554.8 L1429.6,1555.2 L1429.9,1555.6 L1430.2,1556.0 L1430.5,1556.5 L1430.8,1556.8 L1431.3,1557.1 L1431.8,1557.3 L1432.4,1557.4 L1433.0,1557.5 L1433.6,1557.6 L1434.2,1557.7 L1434.8,1557.8 L1435.4,1557.9 L1436.0,1558.0 L1436.6,1558.1 L1437.2,1558.2 L1437.8,1558.3 L1438.4,1558.4 L1439.0,1558.5 L1439.6,1558.6 L1440.2,1558.7 L1440.8,1558.8 L1441.4,1558.8 L1442.1,1558.9 L1442.7,1558.9 L1443.3,1558.9 L1443.9,1559.0 L1444.6,1559.0 L1445.2,1559.0 L1445.8,1559.1 L1446.4,1559.1 L1447.1,1559.1 L1448.4,1559.2 L1450.6,1559.3 L1453.4,1559.4 L1457.1,1559.6 L1459.9,1559.7 L1462.1,1559.8 L1463.4,1559.9 L1464.1,1559.9 L1464.7,1559.9 L1465.3,1560.0 L1465.9,1560.0 L1466.6,1560.0 L1467.2,1560.1 L1467.8,1560.1 L1468.4,1560.1 L1469.1,1560.2 L1469.7,1560.2 L1470.3,1560.2 L1470.9,1560.2 L1471.6,1560.2 L1472.2,1560.2 L1472.8,1560.2 L1473.4,1560.2 L1474.1,1560.2 L1474.7,1560.2 L1475.3,1560.2 L1475.9,1560.2 L1476.6,1560.2 L1494.5,1560.2 L1529.7,1560.2 L1582.1,1560.2 L1651.9,1560.2 L1704.3,1560.2 L1739.5,1560.2 L1757.4,1560.2 L1758.1,1560.2 L1758.7,1560.2 L1759.3,1560.2 L1759.9,1560.2 L1760.6,1560.2 L1761.2,1560.2 L1761.8,1560.2 L1762.6,1560.2 L1764.0,1560.2" stroke="#E5838A" stroke-width="3.2" fill="none" stroke-linejoin="round" stroke-linecap="butt"/>
<path d="M1023.5,1711.2 L1024.9,1711.2 L1025.7,1711.2 L1026.3,1711.2 L1026.9,1711.2 L1027.6,1711.2 L1028.2,1711.2 L1028.8,1711.2 L1029.4,1711.2 L1030.1,1711.2 L1051.3,1711.2 L1093.3,1711.1 L1155.9,1711.0 L1239.2,1710.8 L1301.8,1710.7 L1343.8,1710.6 L1365.0,1710.6 L1365.7,1710.6 L1366.3,1710.6 L1366.9,1710.6 L1367.5,1710.6 L1368.2,1710.6 L1368.8,1710.6 L1369.4,1710.6 L1370.0,1710.6 L1370.7,1710.6 L1371.2,1710.5 L1371.6,1710.2 L1371.9,1709.7 L1372.1,1709.1 L1372.2,1708.5 L1372.4,1707.9 L1372.6,1707.3 L1372.8,1706.7 L1373.0,1706.1 L1373.2,1705.5 L1373.4,1704.9 L1373.5,1704.3 L1373.8,1703.5 L1374.1,1702.5 L1374.5,1701.3 L1374.9,1699.9 L1375.3,1698.7 L1375.6,1697.7 L1375.9,1696.9 L1376.0,1696.3 L1376.2,1695.7 L1376.4,1695.1 L1376.6,1694.5 L1376.8,1693.9 L1377.0,1693.3 L1377.2,1692.7 L1377.4,1691.9 L1377.8,1690.6 L1378.1,1692.0 L1378.2,1692.7 L1378.3,1693.4 L1378.4,1694.0 L1378.5,1694.6 L1378.7,1695.2 L1378.8,1695.8 L1378.9,1696.4 L1379.0,1697.0 L1379.2,1697.8 L1379.3,1698.7 L1379.5,1699.8 L1379.8,1701.1 L1380.0,1702.2 L1380.1,1703.1 L1380.3,1703.9 L1380.4,1704.5 L1380.5,1705.1 L1380.6,1705.7 L1380.8,1706.3 L1380.9,1706.9 L1381.0,1707.5 L1381.1,1708.2 L1381.2,1708.8 L1381.3,1709.4 L1381.5,1709.8 L1381.8,1710.1 L1382.1,1710.3 L1382.5,1710.3 L1382.9,1710.3 L1383.3,1710.3 L1383.7,1710.3 L1384.1,1710.3 L1384.4,1710.1 L1384.7,1709.8 L1384.8,1709.4 L1384.9,1708.7 L1385.0,1708.1 L1385.1,1707.5 L1385.1,1706.9 L1385.2,1706.3 L1385.3,1705.6 L1385.4,1705.0 L1385.4,1704.4 L1385.5,1703.8 L1385.7,1702.6 L1385.9,1700.9 L1386.2,1698.6 L1386.5,1695.8 L1386.8,1693.5 L1387.0,1691.8 L1387.2,1690.6 L1387.3,1690.0 L1387.3,1689.4 L1387.4,1688.8 L1387.5,1688.1 L1387.6,1687.5 L1387.6,1686.9 L1387.7,1686.3 L1387.8,1685.5 L1388.0,1684.1 L1388.3,1685.5 L1388.4,1686.2 L1388.6,1686.9 L1388.7,1687.5 L1388.8,1688.1 L1389.0,1688.7 L1389.1,1689.3 L1389.2,1689.9 L1389.3,1690.5 L1389.6,1691.7 L1390.0,1693.4 L1390.4,1695.8 L1391.1,1698.6 L1391.5,1701.0 L1391.9,1702.7 L1392.2,1703.9 L1392.3,1704.5 L1392.4,1705.1 L1392.5,1705.7 L1392.7,1706.3 L1392.8,1706.9 L1392.9,1707.5 L1393.1,1708.2 L1393.2,1708.9 L1393.5,1710.3 L1393.7,1708.9 L1393.8,1708.1 L1393.8,1707.5 L1393.9,1706.9 L1394.0,1706.3 L1394.1,1705.6 L1394.1,1705.0 L1394.2,1704.4 L1394.3,1703.8 L1394.5,1702.4 L1394.7,1700.2 L1395.1,1697.3 L1395.5,1693.5 L1395.9,1690.6 L1396.1,1688.4 L1396.3,1687.0 L1396.4,1686.4 L1396.5,1685.8 L1396.5,1685.2 L1396.6,1684.5 L1396.7,1683.9 L1396.8,1683.3 L1396.8,1682.7 L1396.9,1682.1 L1397.0,1681.4 L1397.0,1680.8 L1397.1,1680.2 L1397.1,1679.6 L1397.2,1678.9 L1397.2,1678.3 L1397.2,1677.7 L1397.2,1677.1 L1397.2,1676.4 L1397.3,1675.8 L1397.3,1675.2 L1397.3,1674.6 L1397.3,1673.9 L1397.4,1672.4 L1397.5,1669.8 L1397.6,1666.3 L1397.7,1661.9 L1397.8,1658.4 L1397.9,1655.8 L1398.0,1654.3 L1398.0,1653.6 L1398.0,1653.0 L1398.0,1652.4 L1398.1,1651.8 L1398.1,1651.1 L1398.1,1650.5 L1398.1,1649.9 L1398.1,1649.3 L1398.2,1648.6 L1398.2,1648.0 L1398.2,1647.4 L1398.2,1646.8 L1398.2,1646.1 L1398.3,1645.5 L1398.3,1644.9 L1398.3,1644.3 L1398.3,1643.6 L1398.3,1643.0 L1398.3,1642.4 L1398.3,1641.8 L1398.4,1641.1 L1398.4,1638.9 L1398.5,1635.0 L1398.7,1629.5 L1398.8,1622.3 L1399.0,1616.8 L1399.1,1612.9 L1399.1,1610.7 L1399.2,1610.0 L1399.2,1609.4 L1399.2,1608.8 L1399.2,1608.2 L1399.2,1607.5 L1399.2,1606.9 L1399.2,1606.3 L1399.3,1605.7 L1399.3,1605.0 L1399.3,1604.4 L1399.3,1603.8 L1399.3,1603.2 L1399.3,1602.5 L1399.3,1601.9 L1399.3,1601.3 L1399.3,1600.7 L1399.3,1600.0 L1399.3,1599.4 L1399.4,1598.8 L1399.4,1598.2 L1399.4,1597.5 L1399.4,1596.7 L1399.4,1595.7 L1399.4,1594.4 L1399.4,1592.9 L1399.4,1591.6 L1399.4,1590.6 L1399.4,1589.8 L1399.4,1589.1 L1399.4,1588.5 L1399.5,1587.9 L1399.5,1587.3 L1399.5,1586.6 L1399.5,1586.0 L1399.5,1585.4 L1399.5,1584.6 L1399.5,1583.2 L1399.9,1584.4 L1400.2,1585.1 L1400.3,1585.6 L1400.5,1586.2 L1400.7,1586.7 L1400.9,1587.2 L1401.1,1587.8 L1401.3,1588.3 L1401.5,1588.9 L1401.6,1589.4 L1401.8,1589.9 L1402.0,1590.5 L1402.2,1591.0 L1402.4,1591.6 L1402.6,1592.1 L1402.8,1592.6 L1402.9,1593.2 L1403.1,1593.7 L1403.3,1594.3 L1403.5,1594.8 L1403.7,1595.3 L1403.9,1595.9 L1404.1,1596.4 L1404.2,1597.0 L1404.4,1597.5 L1404.6,1598.1 L1404.7,1598.6 L1404.8,1599.2 L1404.8,1599.9 L1404.8,1600.5 L1404.9,1601.1 L1404.9,1601.7 L1405.0,1602.4 L1405.0,1603.0 L1405.0,1603.6 L1405.1,1604.2 L1405.1,1604.8 L1405.2,1606.1 L1405.3,1608.0 L1405.5,1610.5 L1405.7,1613.7 L1405.9,1616.2 L1406.0,1618.1 L1406.1,1619.4 L1406.1,1620.0 L1406.2,1620.6 L1406.2,1621.2 L1406.2,1621.8 L1406.3,1622.5 L1406.3,1623.1 L1406.4,1623.7 L1406.4,1624.3 L1406.4,1625.0 L1406.5,1625.6 L1406.5,1626.2 L1406.6,1626.8 L1406.6,1627.5 L1406.7,1628.1 L1406.7,1628.7 L1406.8,1629.3 L1406.8,1629.9 L1406.9,1630.6 L1406.9,1631.2 L1407.0,1631.8 L1407.0,1632.4 L1407.2,1634.2 L1407.4,1637.2 L1407.8,1641.4 L1408.2,1646.8 L1408.6,1651.0 L1408.8,1654.0 L1409.0,1655.8 L1409.0,1656.4 L1409.1,1657.0 L1409.1,1657.6 L1409.2,1658.3 L1409.2,1658.9 L1409.3,1659.5 L1409.3,1660.1 L1409.4,1660.7 L1409.4,1661.4 L1409.5,1662.0 L1409.6,1662.6 L1409.7,1663.2 L1409.9,1663.8 L1410.1,1664.4 L1410.2,1665.0 L1410.4,1665.6 L1410.5,1666.2 L1410.7,1666.8 L1410.9,1667.4 L1411.0,1668.0 L1411.2,1668.6 L1411.4,1669.6 L1411.8,1670.8 L1412.2,1672.3 L1412.6,1674.1 L1413.0,1675.6 L1413.4,1676.8 L1413.6,1677.8 L1413.8,1678.4 L1413.9,1679.0 L1414.1,1679.6 L1414.3,1680.2 L1414.4,1680.8 L1414.6,1681.4 L1414.7,1682.0 L1414.9,1682.6 L1415.1,1683.2 L1415.2,1683.8 L1415.4,1684.4 L1415.5,1685.0 L1415.7,1685.6 L1415.8,1686.2 L1416.0,1686.8 L1416.1,1687.4 L1416.3,1688.0 L1416.4,1688.7 L1416.6,1689.3 L1416.7,1689.9 L1416.9,1690.5 L1417.2,1691.7 L1417.6,1693.5 L1418.2,1695.9 L1418.9,1698.8 L1419.5,1701.2 L1419.9,1703.0 L1420.2,1704.2 L1420.4,1704.8 L1420.5,1705.4 L1420.7,1706.0 L1420.8,1706.7 L1421.0,1707.3 L1421.1,1707.9 L1421.3,1708.5 L1421.4,1709.1 L1421.6,1709.7 L1421.8,1710.1 L1422.2,1710.4 L1422.7,1710.6 L1423.4,1710.6 L1424.0,1710.6 L1424.6,1710.6 L1425.2,1710.6 L1425.9,1710.6 L1426.5,1710.6 L1427.1,1710.6 L1427.7,1710.6 L1428.4,1710.6 L1449.7,1710.6 L1491.6,1710.6 L1554.2,1710.6 L1637.6,1710.6 L1700.2,1710.6 L1742.1,1710.6 L1763.4,1710.6 L1764.1,1710.6 L1764.7,1710.6 L1765.3,1710.6 L1765.9,1710.6 L1766.6,1710.6 L1767.2,1710.6 L1767.8,1710.6 L1768.6,1710.6 L1770.0,1710.6" stroke="#4673BF" stroke-width="3.2" fill="none" stroke-linejoin="round" stroke-linecap="butt"/>
<path d="M1020.0,1860.9 L1021.4,1860.9 L1022.2,1860.9 L1022.8,1860.9 L1023.4,1860.9 L1024.1,1860.9 L1024.7,1860.9 L1025.3,1860.9 L1025.9,1860.9 L1026.6,1860.9 L1046.8,1860.9 L1086.7,1860.9 L1146.3,1860.9 L1225.4,1860.9 L1285.0,1860.9 L1324.9,1860.9 L1345.1,1860.9 L1345.8,1860.9 L1346.4,1860.9 L1347.0,1860.9 L1347.6,1860.9 L1348.3,1860.9 L1348.9,1860.9 L1349.5,1860.9 L1350.1,1860.9 L1350.8,1860.9 L1351.3,1860.8 L1351.8,1860.6 L1352.2,1860.2 L1352.5,1859.8 L1352.9,1859.3 L1353.2,1858.9 L1353.5,1858.4 L1353.9,1858.0 L1354.2,1857.5 L1354.5,1857.1 L1354.9,1856.6 L1355.2,1856.2 L1355.5,1855.7 L1355.7,1855.2 L1355.8,1854.6 L1355.9,1854.0 L1355.9,1853.4 L1356.0,1852.8 L1356.1,1852.3 L1356.1,1851.7 L1356.2,1851.1 L1356.3,1850.5 L1356.3,1849.9 L1356.4,1849.3 L1356.5,1848.7 L1356.5,1848.1 L1356.6,1847.5 L1356.7,1846.9 L1356.7,1846.3 L1356.8,1845.8 L1356.8,1845.2 L1356.9,1844.6 L1357.0,1844.0 L1357.0,1843.4 L1357.1,1842.8 L1357.2,1842.2 L1357.2,1841.6 L1357.3,1841.0 L1357.4,1840.4 L1357.4,1839.8 L1357.5,1839.3 L1357.6,1838.7 L1357.6,1838.1 L1357.7,1837.5 L1357.8,1836.9 L1357.8,1836.3 L1357.9,1835.7 L1357.9,1835.0 L1358.0,1834.4 L1358.0,1833.8 L1358.1,1833.2 L1358.1,1832.5 L1358.1,1831.9 L1358.2,1831.3 L1358.2,1830.7 L1358.3,1830.1 L1358.4,1828.8 L1358.5,1827.0 L1358.7,1824.6 L1358.9,1821.5 L1359.1,1819.1 L1359.2,1817.3 L1359.3,1816.0 L1359.4,1815.4 L1359.4,1814.8 L1359.5,1814.2 L1359.5,1813.6 L1359.5,1812.9 L1359.6,1812.3 L1359.6,1811.7 L1359.7,1811.1 L1359.7,1810.4 L1359.8,1809.8 L1359.8,1809.2 L1359.9,1808.6 L1359.9,1807.9 L1360.0,1807.3 L1360.0,1806.7 L1360.1,1806.1 L1360.1,1805.5 L1360.2,1804.8 L1360.2,1804.2 L1360.3,1803.6 L1360.4,1803.0 L1360.4,1801.9 L1360.6,1800.5 L1360.7,1798.7 L1360.9,1796.6 L1361.0,1794.8 L1361.2,1793.4 L1361.2,1792.3 L1361.3,1791.7 L1361.4,1791.1 L1361.4,1790.5 L1361.5,1789.8 L1361.5,1789.2 L1361.6,1788.6 L1361.6,1788.0 L1361.7,1787.4 L1361.7,1786.7 L1361.8,1786.1 L1361.9,1785.5 L1362.0,1784.9 L1362.1,1784.3 L1362.2,1783.7 L1362.3,1783.1 L1362.5,1782.5 L1362.6,1781.9 L1362.7,1781.3 L1362.8,1780.7 L1363.0,1780.1 L1363.1,1779.5 L1363.2,1778.9 L1363.3,1778.3 L1363.4,1777.7 L1363.6,1777.0 L1363.7,1776.4 L1363.8,1775.8 L1363.9,1775.2 L1364.0,1774.6 L1364.2,1774.0 L1364.3,1773.4 L1364.4,1772.8 L1364.5,1772.2 L1364.7,1771.6 L1364.8,1771.0 L1364.9,1770.4 L1365.0,1769.8 L1365.1,1769.2 L1365.2,1768.6 L1365.4,1768.0 L1365.5,1767.4 L1365.6,1766.7 L1365.7,1766.1 L1365.8,1765.5 L1365.9,1764.9 L1366.0,1764.3 L1366.1,1763.7 L1366.2,1763.0 L1366.3,1762.4 L1366.4,1761.5 L1366.6,1760.3 L1366.9,1758.7 L1367.2,1756.9 L1367.5,1755.3 L1367.7,1754.1 L1367.8,1753.2 L1367.9,1752.6 L1368.0,1751.9 L1368.1,1751.3 L1368.2,1750.7 L1368.3,1750.1 L1368.4,1749.5 L1368.5,1748.9 L1368.7,1748.1 L1368.9,1746.7 L1368.9,1748.1 L1369.0,1748.9 L1369.0,1749.5 L1369.0,1750.1 L1369.0,1750.8 L1369.1,1751.4 L1369.1,1752.0 L1369.1,1752.6 L1369.1,1753.3 L1369.2,1754.6 L1369.2,1756.6 L1369.3,1759.4 L1369.5,1762.9 L1369.6,1765.7 L1369.6,1767.7 L1369.7,1769.0 L1369.7,1769.7 L1369.7,1770.3 L1369.7,1770.9 L1369.8,1771.5 L1369.8,1772.2 L1369.8,1772.8 L1369.8,1773.4 L1369.8,1774.0 L1369.9,1774.7 L1369.9,1775.3 L1369.9,1775.9 L1369.9,1776.5 L1370.0,1777.2 L1370.0,1777.8 L1370.0,1778.4 L1370.1,1779.0 L1370.1,1779.7 L1370.1,1780.3 L1370.2,1780.9 L1370.2,1781.5 L1370.2,1782.2 L1370.3,1783.4 L1370.4,1785.2 L1370.5,1787.6 L1370.7,1790.7 L1370.8,1793.1 L1370.9,1794.9 L1371.0,1796.1 L1371.0,1796.8 L1371.0,1797.4 L1371.1,1798.0 L1371.1,1798.6 L1371.1,1799.3 L1371.2,1799.9 L1371.2,1800.5 L1371.2,1801.1 L1371.3,1801.8 L1371.3,1802.4 L1371.4,1803.0 L1371.5,1803.6 L1371.7,1804.2 L1371.8,1804.8 L1371.9,1805.4 L1372.1,1806.0 L1372.2,1806.7 L1372.4,1807.3 L1372.5,1807.9 L1372.6,1808.5 L1372.8,1809.1 L1373.0,1809.9 L1373.2,1810.9 L1373.5,1812.1 L1373.8,1813.6 L1374.1,1814.8 L1374.3,1815.8 L1374.5,1816.6 L1374.7,1817.2 L1374.8,1817.8 L1374.9,1818.4 L1375.1,1819.0 L1375.2,1819.7 L1375.4,1820.3 L1375.5,1820.9 L1375.6,1821.5 L1375.8,1822.1 L1375.9,1822.7 L1376.0,1823.3 L1376.1,1823.9 L1376.2,1824.5 L1376.3,1825.1 L1376.4,1825.7 L1376.5,1826.3 L1376.6,1826.9 L1376.7,1827.5 L1376.8,1828.1 L1376.9,1828.7 L1377.0,1829.3 L1377.1,1829.9 L1377.2,1830.5 L1377.3,1831.1 L1377.4,1831.8 L1377.5,1832.4 L1377.6,1833.0 L1377.7,1833.6 L1377.8,1834.2 L1377.9,1834.8 L1378.0,1835.4 L1378.1,1836.0 L1378.2,1836.6 L1378.3,1837.2 L1378.4,1837.8 L1378.5,1838.4 L1378.6,1839.0 L1378.7,1839.6 L1378.8,1840.2 L1378.9,1840.7 L1379.0,1841.3 L1379.1,1841.8 L1379.2,1842.4 L1379.4,1842.9 L1379.5,1843.5 L1379.6,1844.0 L1379.7,1844.5 L1379.9,1845.1 L1380.0,1845.6 L1380.1,1846.2 L1380.2,1846.7 L1380.3,1847.3 L1380.5,1847.8 L1380.6,1848.4 L1380.7,1848.9 L1380.8,1849.5 L1380.9,1850.0 L1381.1,1850.6 L1381.2,1851.1 L1381.3,1851.6 L1381.4,1852.2 L1381.6,1852.7 L1381.7,1853.3 L1381.8,1854.0 L1382.1,1855.2 L1383.5,1854.9 L1384.2,1854.8 L1384.8,1854.6 L1385.5,1854.5 L1386.9,1854.2 L1387.9,1855.0 L1388.5,1855.4 L1388.9,1855.7 L1389.4,1856.0 L1389.8,1856.4 L1390.3,1856.7 L1390.7,1857.0 L1391.2,1857.4 L1391.6,1857.7 L1392.1,1858.0 L1392.6,1858.2 L1393.1,1858.3 L1393.7,1858.4 L1394.2,1858.5 L1394.8,1858.6 L1395.3,1858.7 L1395.9,1858.8 L1396.4,1858.9 L1397.0,1858.9 L1397.5,1859.0 L1398.1,1859.1 L1398.6,1859.2 L1399.2,1859.3 L1399.7,1859.4 L1400.3,1859.5 L1400.8,1859.5 L1401.4,1859.6 L1402.0,1859.7 L1402.6,1859.7 L1403.2,1859.7 L1403.8,1859.8 L1404.3,1859.8 L1404.9,1859.9 L1405.5,1859.9 L1406.1,1859.9 L1406.7,1860.0 L1407.3,1860.0 L1407.9,1860.1 L1408.5,1860.1 L1409.1,1860.1 L1409.7,1860.2 L1410.3,1860.2 L1410.8,1860.3 L1411.4,1860.3 L1412.0,1860.4 L1412.6,1860.4 L1413.2,1860.4 L1413.8,1860.5 L1414.4,1860.5 L1415.0,1860.6 L1415.6,1860.6 L1416.2,1860.6 L1416.8,1860.7 L1417.3,1860.7 L1417.9,1860.8 L1418.5,1860.8 L1419.1,1860.8 L1419.7,1860.9 L1420.3,1860.9 L1420.9,1860.9 L1421.6,1860.9 L1422.2,1860.9 L1422.8,1860.9 L1423.4,1860.9 L1424.1,1860.9 L1424.7,1860.9 L1425.3,1860.9 L1425.9,1860.9 L1426.6,1860.9 L1447.7,1860.9 L1489.2,1860.9 L1551.2,1860.9 L1633.8,1860.9 L1695.8,1860.9 L1737.3,1860.9 L1758.4,1860.9 L1759.1,1860.9 L1759.7,1860.9 L1760.3,1860.9 L1760.9,1860.9 L1761.6,1860.9 L1762.2,1860.9 L1762.8,1860.9 L1763.6,1860.9 L1765.0,1860.9" stroke="#52A77C" stroke-width="3.2" fill="none" stroke-linejoin="round" stroke-linecap="butt"/>
<line x1="1018.5" y1="1895.1" x2="1757.8" y2="1895.1" stroke="#000" stroke-width="3.3"/>
<line x1="1073.4" y1="1896.5" x2="1073.4" y2="1907.7" stroke="#000" stroke-width="3.5"/>
<line x1="1316.5" y1="1896.5" x2="1316.5" y2="1907.7" stroke="#000" stroke-width="3.5"/>
<line x1="1550.6" y1="1896.5" x2="1550.6" y2="1907.7" stroke="#000" stroke-width="3.5"/>
<text x="1063.35" y="1937.80" font-size="27.5">4</text>
<text x="1310.09" y="1937.80" font-size="27.5">5</text>
<text x="1541.75" y="1937.80" font-size="27.5">6</text>
<text x="1268.58" y="1984.30" font-size="27.5">retention time (min)</text>
<line x1="407.5" y1="185.6" x2="409.5" y2="185.6" stroke="#7a7a7a" stroke-width="1.2"/>
<line x1="1281" y1="332.8" x2="1287.5" y2="332.8" stroke="#7a7a7a" stroke-width="1.2"/>
<line x1="464.5" y1="878.6" x2="467.7" y2="878.6" stroke="#7a7a7a" stroke-width="1.2"/>
<line x1="465.2" y1="1178.4" x2="469.5" y2="1178.4" stroke="#7a7a7a" stroke-width="1.2"/>
<line x1="1428.2" y1="879.9" x2="1431.8" y2="879.9" stroke="#7a7a7a" stroke-width="1.2"/>
<line x1="1428.4" y1="1178.9" x2="1432.6" y2="1178.9" stroke="#7a7a7a" stroke-width="1.2"/>
<line x1="240.6" y1="1714.7" x2="244.3" y2="1714.7" stroke="#7a7a7a" stroke-width="1.2"/>
</svg>
</body></html>
